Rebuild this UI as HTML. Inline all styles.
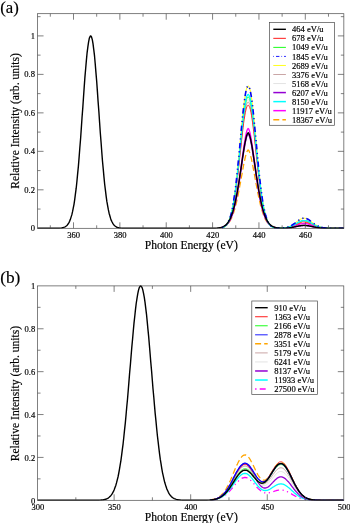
<!DOCTYPE html>
<html><head><meta charset="utf-8"><title>Spectra</title>
<style>html,body{margin:0;padding:0;background:#fff}svg{display:block}text{font-family:"Liberation Serif","Liberation Sans",serif;fill:#000;stroke:#000;stroke-width:.18px}</style></head>
<body>
<svg width="350" height="523" viewBox="0 0 350 523">
<rect width="350" height="523" fill="#fff"/>
<clipPath id="ca"><rect x="37.55" y="13.7" width="306.30" height="215.15"/></clipPath>
<g clip-path="url(#ca)">
<path d="M221.9,227.4 222.4,227.3 223.0,227.1 223.5,226.9 224.1,226.6 224.6,226.4 225.2,226.0 225.8,225.7 226.3,225.3 226.9,224.8 227.4,224.3 228.0,223.7 228.6,223.0 229.1,222.3 229.7,221.5 230.2,220.6 230.8,219.5 231.4,218.4 231.9,217.2 232.5,215.8 233.0,214.4 233.6,212.8 234.1,211.0 234.7,209.2 235.3,207.1 235.8,205.0 236.4,202.7 236.9,200.3 237.5,197.8 238.1,195.1 238.6,192.3 239.2,189.4 239.7,186.5 240.3,183.4 240.9,180.3 241.4,177.2 242.0,174.1 242.5,171.0 243.1,168.0 243.6,165.0 244.2,162.2 244.8,159.5 245.3,157.1 245.9,154.9 246.4,153.1 247.0,151.6 247.6,150.5 248.1,150.0 248.7,150.4 249.2,151.4 249.8,152.8 250.4,154.6 250.9,156.8 251.5,159.2 252.0,161.8 252.6,164.6 253.1,167.5 253.7,170.5 254.3,173.6 254.8,176.7 255.4,179.8 255.9,182.9 256.5,186.0 257.1,189.0 257.6,191.9 258.2,194.7 258.7,197.4 259.3,199.9 259.9,202.4 260.4,204.7 261.0,206.8 261.5,208.9 262.1,210.7 262.6,212.5 263.2,214.1 263.8,215.6 264.3,217.0 264.9,218.2 265.4,219.4 266.0,220.4 266.6,221.3 267.1,222.2 267.7,222.9 268.2,223.6 268.8,224.2 269.4,224.7 269.9,225.2 270.5,225.6 271.0,226.0 271.6,226.3 272.1,226.6 272.7,226.8 273.3,227.1 273.8,227.2 274.4,227.4 274.9,227.5 275.5,227.6 276.1,227.7 276.6,227.8 277.2,227.9 277.7,228.0 278.3,228.0 278.9,228.0 279.4,228.1 280.0,228.1 280.5,228.1 281.1,228.1 281.7,228.1 282.2,228.1 282.8,228.1 283.3,228.1 283.9,228.0 284.4,228.0 285.0,227.9 285.6,227.9 286.1,227.8 286.7,227.8 287.2,227.7 287.8,227.6 288.4,227.5 288.9,227.4 289.5,227.2 290.0,227.1 290.6,226.9 291.2,226.8 291.7,226.6 292.3,226.4 292.8,226.2 293.4,226.0 293.9,225.7 294.5,225.5 295.1,225.3 295.6,225.0 296.2,224.8 296.7,224.5 297.3,224.3 297.9,224.1 298.4,223.8 299.0,223.6 299.5,223.4 300.1,223.2 300.7,223.1 301.2,222.9 301.8,222.8 302.3,222.7 302.9,222.6 303.4,222.5 304.0,222.5 304.6,222.5 305.1,222.6 305.7,222.6 306.2,222.7 306.8,222.8 307.4,223.0 307.9,223.1 308.5,223.3 309.0,223.5 309.6,223.7 310.2,223.9 310.7,224.2 311.3,224.4 311.8,224.7 312.4,224.9 312.9,225.2 313.5,225.4 314.1,225.6 314.6,225.9 315.2,226.1 315.7,226.3 316.3,226.5 316.9,226.7 317.4,226.8 318.0,227.0 318.5,227.2 319.1,227.3 319.7,227.4 320.2,227.5 320.8,227.6 321.3,227.7 321.9,227.8 322.4,227.9 323.0,227.9 323.6,228.0 324.1,228.0 324.7,228.1 325.2,228.1 325.8,228.2 326.4,228.2 326.9,228.2 327.5,228.2 328.0,228.2 328.6,228.2 329.2,228.3 329.7,228.3 330.3,228.3 330.8,228.3 331.4,228.3 331.9,228.3 332.5,228.3 333.1,228.3 333.6,228.3 334.2,228.3 334.7,228.3 335.3,228.3 335.9,228.3 336.4,228.3 337.0,228.3 337.5,228.3 338.1,228.3 338.7,228.3 339.2,228.3 339.8,228.3 340.3,228.3 340.9,228.3 341.4,228.3 342.0,228.3 342.6,228.3 343.1,228.3 343.7,228.3 344.2,228.3" fill="none" stroke="#ffa500" stroke-width="1.3" stroke-linejoin="round" stroke-dasharray="6 3.1"/>
<path d="M221.9,227.4 222.4,227.2 223.0,227.0 223.5,226.8 224.1,226.5 224.6,226.2 225.2,225.9 225.8,225.4 226.3,225.0 226.9,224.4 227.4,223.8 228.0,223.1 228.6,222.3 229.1,221.5 229.7,220.5 230.2,219.4 230.8,218.1 231.4,216.7 231.9,215.2 232.5,213.6 233.0,211.7 233.6,209.7 234.1,207.6 234.7,205.2 235.3,202.7 235.8,200.0 236.4,197.1 236.9,194.0 237.5,190.7 238.1,187.3 238.6,183.7 239.2,180.0 239.7,176.1 240.3,172.1 240.9,168.1 241.4,164.0 242.0,160.0 242.5,155.9 243.1,151.9 243.6,148.1 244.2,144.4 244.8,140.9 245.3,137.7 245.9,134.9 246.4,132.4 247.0,130.5 247.6,129.1 248.1,128.5 248.7,128.9 249.2,130.2 249.8,132.1 250.4,134.5 250.9,137.3 251.5,140.4 252.0,143.8 252.6,147.5 253.1,151.3 253.7,155.3 254.3,159.3 254.8,163.4 255.4,167.5 255.9,171.5 256.5,175.5 257.1,179.4 257.6,183.1 258.2,186.7 258.7,190.2 259.3,193.5 259.9,196.6 260.4,199.5 261.0,202.3 261.5,204.8 262.1,207.2 262.6,209.4 263.2,211.4 263.8,213.3 264.3,215.0 264.9,216.5 265.4,217.9 266.0,219.2 266.6,220.3 267.1,221.3 267.7,222.2 268.2,223.0 268.8,223.7 269.4,224.3 269.9,224.9 270.5,225.4 271.0,225.8 271.6,226.2 272.1,226.5 272.7,226.8 273.3,227.0 273.8,227.2 274.4,227.4 274.9,227.5 275.5,227.6 276.1,227.7 276.6,227.8 277.2,227.9 277.7,228.0 278.3,228.0 278.9,228.1 279.4,228.1 280.0,228.1 280.5,228.1 281.1,228.1 281.7,228.1 282.2,228.1 282.8,228.1 283.3,228.1 283.9,228.1 284.4,228.0 285.0,228.0 285.6,228.0 286.1,227.9 286.7,227.8 287.2,227.8 287.8,227.7 288.4,227.6 288.9,227.5 289.5,227.4 290.0,227.3 290.6,227.2 291.2,227.0 291.7,226.9 292.3,226.7 292.8,226.5 293.4,226.4 293.9,226.2 294.5,226.0 295.1,225.8 295.6,225.6 296.2,225.4 296.7,225.2 297.3,225.0 297.9,224.8 298.4,224.6 299.0,224.4 299.5,224.2 300.1,224.1 300.7,223.9 301.2,223.8 301.8,223.7 302.3,223.6 302.9,223.5 303.4,223.5 304.0,223.5 304.6,223.5 305.1,223.5 305.7,223.6 306.2,223.7 306.8,223.7 307.4,223.9 307.9,224.0 308.5,224.1 309.0,224.3 309.6,224.5 310.2,224.7 310.7,224.9 311.3,225.1 311.8,225.3 312.4,225.5 312.9,225.7 313.5,225.9 314.1,226.1 314.6,226.3 315.2,226.4 315.7,226.6 316.3,226.8 316.9,226.9 317.4,227.1 318.0,227.2 318.5,227.3 319.1,227.5 319.7,227.6 320.2,227.7 320.8,227.7 321.3,227.8 321.9,227.9 322.4,227.9 323.0,228.0 323.6,228.0 324.1,228.1 324.7,228.1 325.2,228.2 325.8,228.2 326.4,228.2 326.9,228.2 327.5,228.2 328.0,228.2 328.6,228.3 329.2,228.3 329.7,228.3 330.3,228.3 330.8,228.3 331.4,228.3 331.9,228.3 332.5,228.3 333.1,228.3 333.6,228.3 334.2,228.3 334.7,228.3 335.3,228.3 335.9,228.3 336.4,228.3 337.0,228.3 337.5,228.3 338.1,228.3 338.7,228.3 339.2,228.3 339.8,228.3 340.3,228.3 340.9,228.3 341.4,228.3 342.0,228.3 342.6,228.3 343.1,228.3 343.7,228.3 344.2,228.3" fill="none" stroke="#ff00ff" stroke-width="1.3" stroke-linejoin="round"/>
<path d="M221.9,227.4 222.4,227.2 223.0,227.0 223.5,226.8 224.1,226.5 224.6,226.2 225.2,225.9 225.8,225.5 226.3,225.0 226.9,224.5 227.4,223.9 228.0,223.3 228.6,222.5 229.1,221.6 229.7,220.7 230.2,219.6 230.8,218.4 231.4,217.1 231.9,215.7 232.5,214.1 233.0,212.4 233.6,210.4 234.1,208.4 234.7,206.2 235.3,203.7 235.8,201.2 236.4,198.4 236.9,195.5 237.5,192.4 238.1,189.2 238.6,185.8 239.2,182.3 239.7,178.7 240.3,174.9 240.9,171.2 241.4,167.3 242.0,163.5 242.5,159.7 243.1,156.0 243.6,152.4 244.2,148.9 244.8,145.7 245.3,142.7 245.9,140.0 246.4,137.8 247.0,135.9 247.6,134.6 248.1,134.0 248.7,134.5 249.2,135.7 249.8,137.4 250.4,139.7 250.9,142.3 251.5,145.2 252.0,148.4 252.6,151.8 253.1,155.4 253.7,159.1 254.3,162.9 254.8,166.8 255.4,170.6 255.9,174.4 256.5,178.1 257.1,181.7 257.6,185.3 258.2,188.7 258.7,191.9 259.3,195.0 259.9,198.0 260.4,200.8 261.0,203.4 261.5,205.8 262.1,208.1 262.6,210.1 263.2,212.1 263.8,213.8 264.3,215.5 264.9,216.9 265.4,218.3 266.0,219.5 266.6,220.5 267.1,221.5 267.7,222.4 268.2,223.1 268.8,223.8 269.4,224.4 269.9,225.0 270.5,225.4 271.0,225.8 271.6,226.2 272.1,226.5 272.7,226.8 273.3,227.0 273.8,227.2 274.4,227.4 274.9,227.5 275.5,227.6 276.1,227.7 276.6,227.8 277.2,227.9 277.7,228.0 278.3,228.0 278.9,228.1 279.4,228.1 280.0,228.1 280.5,228.1 281.1,228.2 281.7,228.2 282.2,228.2 282.8,228.2 283.3,228.2 283.9,228.2 284.4,228.1 285.0,228.1 285.6,228.1 286.1,228.1 286.7,228.0 287.2,228.0 287.8,227.9 288.4,227.9 288.9,227.8 289.5,227.8 290.0,227.7 290.6,227.6 291.2,227.6 291.7,227.5 292.3,227.4 292.8,227.3 293.4,227.2 293.9,227.1 294.5,226.9 295.1,226.8 295.6,226.7 296.2,226.6 296.7,226.5 297.3,226.4 297.9,226.3 298.4,226.1 299.0,226.0 299.5,225.9 300.1,225.8 300.7,225.8 301.2,225.7 301.8,225.6 302.3,225.6 302.9,225.5 303.4,225.5 304.0,225.5 304.6,225.5 305.1,225.5 305.7,225.6 306.2,225.6 306.8,225.7 307.4,225.7 307.9,225.8 308.5,225.9 309.0,226.0 309.6,226.1 310.2,226.2 310.7,226.3 311.3,226.4 311.8,226.5 312.4,226.7 312.9,226.8 313.5,226.9 314.1,227.0 314.6,227.1 315.2,227.2 315.7,227.3 316.3,227.4 316.9,227.5 317.4,227.6 318.0,227.7 318.5,227.7 319.1,227.8 319.7,227.9 320.2,227.9 320.8,228.0 321.3,228.0 321.9,228.1 322.4,228.1 323.0,228.1 323.6,228.2 324.1,228.2 324.7,228.2 325.2,228.2 325.8,228.2 326.4,228.2 326.9,228.3 327.5,228.3 328.0,228.3 328.6,228.3 329.2,228.3 329.7,228.3 330.3,228.3 330.8,228.3 331.4,228.3 331.9,228.3 332.5,228.3 333.1,228.3 333.6,228.3 334.2,228.3 334.7,228.3 335.3,228.3 335.9,228.3 336.4,228.3 337.0,228.3 337.5,228.3 338.1,228.3 338.7,228.3 339.2,228.3 339.8,228.3 340.3,228.3 340.9,228.3 341.4,228.3 342.0,228.3 342.6,228.3 343.1,228.3 343.7,228.3 344.2,228.3" fill="none" stroke="#9400d3" stroke-width="1.3" stroke-linejoin="round"/>
<path d="M221.9,227.7 222.4,227.6 223.0,227.4 223.5,227.2 224.1,226.9 224.6,226.6 225.2,226.2 225.8,225.7 226.3,225.2 226.9,224.6 227.4,223.8 228.0,222.9 228.6,221.9 229.1,220.7 229.7,219.4 230.2,217.8 230.8,216.1 231.4,214.1 231.9,211.9 232.5,209.5 233.0,206.8 233.6,203.8 234.1,200.5 234.7,197.0 235.3,193.2 235.8,189.1 236.4,184.7 236.9,180.1 237.5,175.3 238.1,170.3 238.6,165.1 239.2,159.7 239.7,154.3 240.3,148.8 240.9,143.4 241.4,138.0 242.0,132.8 242.5,127.7 243.1,122.9 243.6,118.4 244.2,114.2 244.8,110.5 245.3,107.3 245.9,104.5 246.4,102.3 247.0,100.7 247.6,99.8 248.1,99.4 248.7,99.7 249.2,100.6 249.8,102.1 250.4,104.1 250.9,106.8 251.5,110.0 252.0,113.6 252.6,117.7 253.1,122.2 253.7,126.9 254.3,132.0 254.8,137.2 255.4,142.6 255.9,148.0 256.5,153.5 257.1,158.9 257.6,164.2 258.2,169.5 258.7,174.5 259.3,179.4 259.9,184.0 260.4,188.4 261.0,192.6 261.5,196.4 262.1,200.0 262.6,203.3 263.2,206.3 263.8,209.1 264.3,211.6 264.9,213.8 265.4,215.8 266.0,217.6 266.6,219.2 267.1,220.5 267.7,221.7 268.2,222.8 268.8,223.7 269.4,224.5 269.9,225.1 270.5,225.7 271.0,226.1 271.6,226.5 272.1,226.9 272.7,227.1 273.3,227.4 273.8,227.5 274.4,227.7 274.9,227.8 275.5,227.9 276.1,228.0 276.6,228.1 277.2,228.1 277.7,228.1 278.3,228.2 278.9,228.2 279.4,228.2 280.0,228.2 280.5,228.2 281.1,228.2 281.7,228.1 282.2,228.1 282.8,228.1 283.3,228.0 283.9,228.0 284.4,227.9 285.0,227.9 285.6,227.8 286.1,227.7 286.7,227.6 287.2,227.5 287.8,227.3 288.4,227.2 288.9,227.0 289.5,226.9 290.0,226.7 290.6,226.5 291.2,226.2 291.7,226.0 292.3,225.7 292.8,225.5 293.4,225.2 293.9,224.9 294.5,224.6 295.1,224.3 295.6,223.9 296.2,223.6 296.7,223.3 297.3,223.0 297.9,222.6 298.4,222.3 299.0,222.1 299.5,221.8 300.1,221.5 300.7,221.3 301.2,221.1 301.8,220.9 302.3,220.8 302.9,220.7 303.4,220.6 304.0,220.6 304.6,220.6 305.1,220.7 305.7,220.7 306.2,220.9 306.8,221.0 307.4,221.2 307.9,221.4 308.5,221.7 309.0,221.9 309.6,222.2 310.2,222.5 310.7,222.8 311.3,223.1 311.8,223.5 312.4,223.8 312.9,224.1 313.5,224.4 314.1,224.7 314.6,225.0 315.2,225.3 315.7,225.6 316.3,225.9 316.9,226.1 317.4,226.4 318.0,226.6 318.5,226.8 319.1,227.0 319.7,227.1 320.2,227.3 320.8,227.4 321.3,227.5 321.9,227.6 322.4,227.7 323.0,227.8 323.6,227.9 324.1,228.0 324.7,228.0 325.2,228.1 325.8,228.1 326.4,228.1 326.9,228.2 327.5,228.2 328.0,228.2 328.6,228.2 329.2,228.2 329.7,228.3 330.3,228.3 330.8,228.3 331.4,228.3 331.9,228.3 332.5,228.3 333.1,228.3 333.6,228.3 334.2,228.3 334.7,228.3 335.3,228.3 335.9,228.3 336.4,228.3 337.0,228.3 337.5,228.3 338.1,228.3 338.7,228.3 339.2,228.3 339.8,228.3 340.3,228.3 340.9,228.3 341.4,228.3 342.0,228.3 342.6,228.3 343.1,228.3 343.7,228.3 344.2,228.3" fill="none" stroke="#dcdcdc" stroke-width="0.8" stroke-linejoin="round"/>
<path d="M221.9,227.7 222.4,227.6 223.0,227.4 223.5,227.2 224.1,226.9 224.6,226.6 225.2,226.2 225.8,225.8 226.3,225.3 226.9,224.6 227.4,223.9 228.0,223.0 228.6,222.0 229.1,220.9 229.7,219.6 230.2,218.1 230.8,216.4 231.4,214.4 231.9,212.3 232.5,209.9 233.0,207.2 233.6,204.3 234.1,201.1 234.7,197.7 235.3,193.9 235.8,189.9 236.4,185.6 236.9,181.1 237.5,176.4 238.1,171.5 238.6,166.4 239.2,161.2 239.7,155.8 240.3,150.5 240.9,145.2 241.4,139.9 242.0,134.8 242.5,129.8 243.1,125.1 243.6,120.7 244.2,116.6 244.8,113.0 245.3,109.8 245.9,107.1 246.4,105.0 247.0,103.4 247.6,102.4 248.1,102.1 248.7,102.3 249.2,103.2 249.8,104.7 250.4,106.7 250.9,109.3 251.5,112.4 252.0,116.0 252.6,120.0 253.1,124.4 253.7,129.1 254.3,134.0 254.8,139.1 255.4,144.4 255.9,149.7 256.5,155.0 257.1,160.3 257.6,165.6 258.2,170.7 258.7,175.7 259.3,180.4 259.9,185.0 260.4,189.3 261.0,193.3 261.5,197.1 262.1,200.6 262.6,203.8 263.2,206.8 263.8,209.5 264.3,211.9 264.9,214.1 265.4,216.1 266.0,217.8 266.6,219.4 267.1,220.7 267.7,221.9 268.2,222.9 268.8,223.8 269.4,224.5 269.9,225.2 270.5,225.7 271.0,226.2 271.6,226.6 272.1,226.9 272.7,227.2 273.3,227.4 273.8,227.6 274.4,227.7 274.9,227.8 275.5,227.9 276.1,228.0 276.6,228.1 277.2,228.1 277.7,228.1 278.3,228.2 278.9,228.2 279.4,228.2 280.0,228.2 280.5,228.2 281.1,228.2 281.7,228.1 282.2,228.1 282.8,228.1 283.3,228.0 283.9,228.0 284.4,227.9 285.0,227.9 285.6,227.8 286.1,227.7 286.7,227.6 287.2,227.5 287.8,227.3 288.4,227.2 288.9,227.0 289.5,226.9 290.0,226.7 290.6,226.5 291.2,226.2 291.7,226.0 292.3,225.7 292.8,225.5 293.4,225.2 293.9,224.9 294.5,224.6 295.1,224.3 295.6,223.9 296.2,223.6 296.7,223.3 297.3,223.0 297.9,222.6 298.4,222.3 299.0,222.1 299.5,221.8 300.1,221.5 300.7,221.3 301.2,221.1 301.8,220.9 302.3,220.8 302.9,220.7 303.4,220.6 304.0,220.6 304.6,220.6 305.1,220.7 305.7,220.7 306.2,220.9 306.8,221.0 307.4,221.2 307.9,221.4 308.5,221.7 309.0,221.9 309.6,222.2 310.2,222.5 310.7,222.8 311.3,223.1 311.8,223.5 312.4,223.8 312.9,224.1 313.5,224.4 314.1,224.7 314.6,225.0 315.2,225.3 315.7,225.6 316.3,225.9 316.9,226.1 317.4,226.4 318.0,226.6 318.5,226.8 319.1,227.0 319.7,227.1 320.2,227.3 320.8,227.4 321.3,227.5 321.9,227.6 322.4,227.7 323.0,227.8 323.6,227.9 324.1,228.0 324.7,228.0 325.2,228.1 325.8,228.1 326.4,228.1 326.9,228.2 327.5,228.2 328.0,228.2 328.6,228.2 329.2,228.2 329.7,228.3 330.3,228.3 330.8,228.3 331.4,228.3 331.9,228.3 332.5,228.3 333.1,228.3 333.6,228.3 334.2,228.3 334.7,228.3 335.3,228.3 335.9,228.3 336.4,228.3 337.0,228.3 337.5,228.3 338.1,228.3 338.7,228.3 339.2,228.3 339.8,228.3 340.3,228.3 340.9,228.3 341.4,228.3 342.0,228.3 342.6,228.3 343.1,228.3 343.7,228.3 344.2,228.3" fill="none" stroke="#bc8f8f" stroke-width="0.8" stroke-linejoin="round"/>
<path d="M221.9,227.7 222.4,227.6 223.0,227.4 223.5,227.2 224.1,226.9 224.6,226.6 225.2,226.2 225.8,225.7 226.3,225.1 226.9,224.5 227.4,223.7 228.0,222.8 228.6,221.8 229.1,220.6 229.7,219.2 230.2,217.6 230.8,215.9 231.4,213.9 231.9,211.6 232.5,209.1 233.0,206.4 233.6,203.3 234.1,200.0 234.7,196.4 235.3,192.5 235.8,188.3 236.4,183.9 236.9,179.2 237.5,174.3 238.1,169.1 238.6,163.8 239.2,158.4 239.7,152.9 240.3,147.3 240.9,141.7 241.4,136.3 242.0,130.9 242.5,125.7 243.1,120.8 243.6,116.2 244.2,112.0 244.8,108.2 245.3,104.9 245.9,102.1 246.4,99.9 247.0,98.3 247.6,97.3 248.1,96.9 248.7,97.2 249.2,98.1 249.8,99.6 250.4,101.7 250.9,104.4 251.5,107.7 252.0,111.4 252.6,115.6 253.1,120.1 253.7,125.0 254.3,130.1 254.8,135.4 255.4,140.9 255.9,146.4 256.5,152.0 257.1,157.5 257.6,163.0 258.2,168.3 258.7,173.5 259.3,178.4 259.9,183.2 260.4,187.7 261.0,191.9 261.5,195.8 262.1,199.5 262.6,202.8 263.2,205.9 263.8,208.7 264.3,211.3 264.9,213.5 265.4,215.6 266.0,217.4 266.6,219.0 267.1,220.4 267.7,221.6 268.2,222.7 268.8,223.6 269.4,224.4 269.9,225.0 270.5,225.6 271.0,226.1 271.6,226.5 272.1,226.8 272.7,227.1 273.3,227.3 273.8,227.5 274.4,227.7 274.9,227.8 275.5,227.9 276.1,228.0 276.6,228.0 277.2,228.1 277.7,228.1 278.3,228.2 278.9,228.2 279.4,228.2 280.0,228.2 280.5,228.2 281.1,228.2 281.7,228.1 282.2,228.1 282.8,228.1 283.3,228.0 283.9,228.0 284.4,227.9 285.0,227.9 285.6,227.8 286.1,227.7 286.7,227.6 287.2,227.5 287.8,227.3 288.4,227.2 288.9,227.0 289.5,226.9 290.0,226.7 290.6,226.5 291.2,226.2 291.7,226.0 292.3,225.7 292.8,225.5 293.4,225.2 293.9,224.9 294.5,224.6 295.1,224.3 295.6,223.9 296.2,223.6 296.7,223.3 297.3,223.0 297.9,222.6 298.4,222.3 299.0,222.1 299.5,221.8 300.1,221.5 300.7,221.3 301.2,221.1 301.8,220.9 302.3,220.8 302.9,220.7 303.4,220.6 304.0,220.6 304.6,220.6 305.1,220.7 305.7,220.7 306.2,220.9 306.8,221.0 307.4,221.2 307.9,221.4 308.5,221.7 309.0,221.9 309.6,222.2 310.2,222.5 310.7,222.8 311.3,223.1 311.8,223.5 312.4,223.8 312.9,224.1 313.5,224.4 314.1,224.7 314.6,225.0 315.2,225.3 315.7,225.6 316.3,225.9 316.9,226.1 317.4,226.4 318.0,226.6 318.5,226.8 319.1,227.0 319.7,227.1 320.2,227.3 320.8,227.4 321.3,227.5 321.9,227.6 322.4,227.7 323.0,227.8 323.6,227.9 324.1,228.0 324.7,228.0 325.2,228.1 325.8,228.1 326.4,228.1 326.9,228.2 327.5,228.2 328.0,228.2 328.6,228.2 329.2,228.2 329.7,228.3 330.3,228.3 330.8,228.3 331.4,228.3 331.9,228.3 332.5,228.3 333.1,228.3 333.6,228.3 334.2,228.3 334.7,228.3 335.3,228.3 335.9,228.3 336.4,228.3 337.0,228.3 337.5,228.3 338.1,228.3 338.7,228.3 339.2,228.3 339.8,228.3 340.3,228.3 340.9,228.3 341.4,228.3 342.0,228.3 342.6,228.3 343.1,228.3 343.7,228.3 344.2,228.3" fill="none" stroke="#00ff00" stroke-width="0.8" stroke-linejoin="round"/>
<path d="M221.9,227.8 222.4,227.6 223.0,227.4 223.5,227.2 224.1,227.0 224.6,226.7 225.2,226.3 225.8,225.9 226.3,225.3 226.9,224.7 227.4,224.0 228.0,223.2 228.6,222.2 229.1,221.1 229.7,219.8 230.2,218.3 230.8,216.7 231.4,214.8 231.9,212.7 232.5,210.3 233.0,207.7 233.6,204.9 234.1,201.8 234.7,198.4 235.3,194.8 235.8,190.8 236.4,186.7 236.9,182.3 237.5,177.7 238.1,172.9 238.6,167.9 239.2,162.8 239.7,157.6 240.3,152.4 240.9,147.2 241.4,142.1 242.0,137.0 242.5,132.2 243.1,127.6 243.6,123.3 244.2,119.3 244.8,115.8 245.3,112.7 245.9,110.1 246.4,108.0 247.0,106.5 247.6,105.5 248.1,105.2 248.7,105.4 249.2,106.3 249.8,107.7 250.4,109.7 250.9,112.2 251.5,115.3 252.0,118.8 252.6,122.7 253.1,126.9 253.7,131.5 254.3,136.3 254.8,141.3 255.4,146.4 255.9,151.6 256.5,156.8 257.1,162.0 257.6,167.1 258.2,172.1 258.7,176.9 259.3,181.6 259.9,186.0 260.4,190.2 261.0,194.2 261.5,197.9 262.1,201.3 262.6,204.4 263.2,207.3 263.8,210.0 264.3,212.3 264.9,214.5 265.4,216.4 266.0,218.1 266.6,219.6 267.1,220.9 267.7,222.0 268.2,223.0 268.8,223.9 269.4,224.6 269.9,225.3 270.5,225.8 271.0,226.2 271.6,226.6 272.1,226.9 272.7,227.2 273.3,227.4 273.8,227.6 274.4,227.7 274.9,227.8 275.5,227.9 276.1,228.0 276.6,228.1 277.2,228.1 277.7,228.1 278.3,228.2 278.9,228.2 279.4,228.2 280.0,228.2 280.5,228.2 281.1,228.2 281.7,228.2 282.2,228.1 282.8,228.1 283.3,228.1 283.9,228.0 284.4,228.0 285.0,227.9 285.6,227.9 286.1,227.8 286.7,227.7 287.2,227.6 287.8,227.5 288.4,227.4 288.9,227.2 289.5,227.1 290.0,226.9 290.6,226.7 291.2,226.6 291.7,226.3 292.3,226.1 292.8,225.9 293.4,225.7 293.9,225.4 294.5,225.1 295.1,224.9 295.6,224.6 296.2,224.3 296.7,224.0 297.3,223.8 297.9,223.5 298.4,223.2 299.0,223.0 299.5,222.8 300.1,222.5 300.7,222.4 301.2,222.2 301.8,222.0 302.3,221.9 302.9,221.8 303.4,221.8 304.0,221.8 304.6,221.8 305.1,221.8 305.7,221.9 306.2,222.0 306.8,222.1 307.4,222.3 307.9,222.4 308.5,222.7 309.0,222.9 309.6,223.1 310.2,223.4 310.7,223.6 311.3,223.9 311.8,224.2 312.4,224.5 312.9,224.7 313.5,225.0 314.1,225.3 314.6,225.5 315.2,225.8 315.7,226.0 316.3,226.2 316.9,226.5 317.4,226.7 318.0,226.8 318.5,227.0 319.1,227.2 319.7,227.3 320.2,227.4 320.8,227.5 321.3,227.7 321.9,227.7 322.4,227.8 323.0,227.9 323.6,228.0 324.1,228.0 324.7,228.1 325.2,228.1 325.8,228.1 326.4,228.2 326.9,228.2 327.5,228.2 328.0,228.2 328.6,228.2 329.2,228.3 329.7,228.3 330.3,228.3 330.8,228.3 331.4,228.3 331.9,228.3 332.5,228.3 333.1,228.3 333.6,228.3 334.2,228.3 334.7,228.3 335.3,228.3 335.9,228.3 336.4,228.3 337.0,228.3 337.5,228.3 338.1,228.3 338.7,228.3 339.2,228.3 339.8,228.3 340.3,228.3 340.9,228.3 341.4,228.3 342.0,228.3 342.6,228.3 343.1,228.3 343.7,228.3 344.2,228.3" fill="none" stroke="#ff0000" stroke-width="0.8" stroke-linejoin="round"/>
<path d="M221.9,227.7 222.4,227.5 223.0,227.3 223.5,227.1 224.1,226.8 224.6,226.4 225.2,226.0 225.8,225.5 226.3,224.9 226.9,224.2 227.4,223.3 228.0,222.4 228.6,221.2 229.1,219.9 229.7,218.5 230.2,216.8 230.8,214.8 231.4,212.7 231.9,210.2 232.5,207.5 233.0,204.5 233.6,201.2 234.1,197.6 234.7,193.7 235.3,189.5 235.8,185.0 236.4,180.2 236.9,175.1 237.5,169.8 238.1,164.2 238.6,158.4 239.2,152.6 239.7,146.6 240.3,140.5 240.9,134.5 241.4,128.6 242.0,122.8 242.5,117.2 243.1,111.9 243.6,106.9 244.2,102.3 244.8,98.2 245.3,94.6 245.9,91.6 246.4,89.2 247.0,87.4 247.6,86.3 248.1,85.9 248.7,86.2 249.2,87.2 249.8,88.9 250.4,91.2 250.9,94.1 251.5,97.6 252.0,101.6 252.6,106.2 253.1,111.1 253.7,116.4 254.3,121.9 254.8,127.7 255.4,133.6 255.9,139.6 256.5,145.6 257.1,151.6 257.6,157.6 258.2,163.3 258.7,168.9 259.3,174.3 259.9,179.4 260.4,184.3 261.0,188.8 261.5,193.1 262.1,197.1 262.6,200.7 263.2,204.0 263.8,207.1 264.3,209.8 264.9,212.3 265.4,214.5 266.0,216.5 266.6,218.2 267.1,219.7 267.7,221.1 268.2,222.2 268.8,223.2 269.4,224.1 269.9,224.8 270.5,225.4 271.0,225.9 271.6,226.3 272.1,226.7 272.7,227.0 273.3,227.3 273.8,227.5 274.4,227.6 274.9,227.8 275.5,227.9 276.1,228.0 276.6,228.0 277.2,228.1 277.7,228.1 278.3,228.1 278.9,228.1 279.4,228.1 280.0,228.1 280.5,228.1 281.1,228.1 281.7,228.1 282.2,228.0 282.8,228.0 283.3,227.9 283.9,227.9 284.4,227.8 285.0,227.7 285.6,227.6 286.1,227.5 286.7,227.4 287.2,227.2 287.8,227.0 288.4,226.9 288.9,226.7 289.5,226.4 290.0,226.2 290.6,225.9 291.2,225.6 291.7,225.3 292.3,224.9 292.8,224.6 293.4,224.2 293.9,223.8 294.5,223.4 295.1,223.0 295.6,222.6 296.2,222.1 296.7,221.7 297.3,221.3 297.9,220.9 298.4,220.5 299.0,220.1 299.5,219.7 300.1,219.4 300.7,219.1 301.2,218.9 301.8,218.6 302.3,218.5 302.9,218.3 303.4,218.2 304.0,218.2 304.6,218.2 305.1,218.3 305.7,218.4 306.2,218.5 306.8,218.7 307.4,219.0 307.9,219.3 308.5,219.6 309.0,219.9 309.6,220.3 310.2,220.7 310.7,221.1 311.3,221.5 311.8,221.9 312.4,222.4 312.9,222.8 313.5,223.2 314.1,223.6 314.6,224.0 315.2,224.4 315.7,224.8 316.3,225.1 316.9,225.4 317.4,225.8 318.0,226.0 318.5,226.3 319.1,226.5 319.7,226.8 320.2,227.0 320.8,227.1 321.3,227.3 321.9,227.4 322.4,227.6 323.0,227.7 323.6,227.8 324.1,227.9 324.7,227.9 325.2,228.0 325.8,228.0 326.4,228.1 326.9,228.1 327.5,228.2 328.0,228.2 328.6,228.2 329.2,228.2 329.7,228.2 330.3,228.3 330.8,228.3 331.4,228.3 331.9,228.3 332.5,228.3 333.1,228.3 333.6,228.3 334.2,228.3 334.7,228.3 335.3,228.3 335.9,228.3 336.4,228.3 337.0,228.3 337.5,228.3 338.1,228.3 338.7,228.3 339.2,228.3 339.8,228.3 340.3,228.3 340.9,228.3 341.4,228.3 342.0,228.3 342.6,228.3 343.1,228.3 343.7,228.3 344.2,228.3" fill="none" stroke="#ffff00" stroke-width="1.0" stroke-linejoin="round"/>
<path d="M221.9,227.7 222.4,227.5 223.0,227.4 223.5,227.1 224.1,226.9 224.6,226.5 225.2,226.1 225.8,225.6 226.3,225.1 226.9,224.4 227.4,223.6 228.0,222.7 228.6,221.7 229.1,220.4 229.7,219.0 230.2,217.4 230.8,215.6 231.4,213.6 231.9,211.3 232.5,208.8 233.0,205.9 233.6,202.8 234.1,199.5 234.7,195.8 235.3,191.8 235.8,187.6 236.4,183.0 236.9,178.3 237.5,173.2 238.1,168.0 238.6,162.6 239.2,157.1 239.7,151.4 240.3,145.8 240.9,140.1 241.4,134.5 242.0,129.1 242.5,123.8 243.1,118.8 243.6,114.1 244.2,109.8 244.8,105.9 245.3,102.6 245.9,99.7 246.4,97.4 247.0,95.8 247.6,94.8 248.1,94.4 248.7,94.7 249.2,95.6 249.8,97.2 250.4,99.3 250.9,102.1 251.5,105.4 252.0,109.2 252.6,113.4 253.1,118.1 253.7,123.0 254.3,128.2 254.8,133.7 255.4,139.2 255.9,144.9 256.5,150.6 257.1,156.2 257.6,161.8 258.2,167.2 258.7,172.4 259.3,177.5 259.9,182.3 260.4,186.9 261.0,191.2 261.5,195.2 262.1,198.9 262.6,202.3 263.2,205.5 263.8,208.3 264.3,210.9 264.9,213.3 265.4,215.3 266.0,217.2 266.6,218.8 267.1,220.2 267.7,221.5 268.2,222.6 268.8,223.5 269.4,224.3 269.9,225.0 270.5,225.6 271.0,226.1 271.6,226.5 272.1,226.8 272.7,227.1 273.3,227.3 273.8,227.5 274.4,227.7 274.9,227.8 275.5,227.9 276.1,228.0 276.6,228.0 277.2,228.1 277.7,228.1 278.3,228.1 278.9,228.2 279.4,228.2 280.0,228.2 280.5,228.2 281.1,228.2 281.7,228.1 282.2,228.1 282.8,228.1 283.3,228.0 283.9,228.0 284.4,227.9 285.0,227.9 285.6,227.8 286.1,227.7 286.7,227.6 287.2,227.5 287.8,227.3 288.4,227.2 288.9,227.0 289.5,226.9 290.0,226.7 290.6,226.5 291.2,226.2 291.7,226.0 292.3,225.7 292.8,225.5 293.4,225.2 293.9,224.9 294.5,224.6 295.1,224.3 295.6,223.9 296.2,223.6 296.7,223.3 297.3,223.0 297.9,222.6 298.4,222.3 299.0,222.1 299.5,221.8 300.1,221.5 300.7,221.3 301.2,221.1 301.8,220.9 302.3,220.8 302.9,220.7 303.4,220.6 304.0,220.6 304.6,220.6 305.1,220.7 305.7,220.7 306.2,220.9 306.8,221.0 307.4,221.2 307.9,221.4 308.5,221.7 309.0,221.9 309.6,222.2 310.2,222.5 310.7,222.8 311.3,223.1 311.8,223.5 312.4,223.8 312.9,224.1 313.5,224.4 314.1,224.7 314.6,225.0 315.2,225.3 315.7,225.6 316.3,225.9 316.9,226.1 317.4,226.4 318.0,226.6 318.5,226.8 319.1,227.0 319.7,227.1 320.2,227.3 320.8,227.4 321.3,227.5 321.9,227.6 322.4,227.7 323.0,227.8 323.6,227.9 324.1,228.0 324.7,228.0 325.2,228.1 325.8,228.1 326.4,228.1 326.9,228.2 327.5,228.2 328.0,228.2 328.6,228.2 329.2,228.2 329.7,228.3 330.3,228.3 330.8,228.3 331.4,228.3 331.9,228.3 332.5,228.3 333.1,228.3 333.6,228.3 334.2,228.3 334.7,228.3 335.3,228.3 335.9,228.3 336.4,228.3 337.0,228.3 337.5,228.3 338.1,228.3 338.7,228.3 339.2,228.3 339.8,228.3 340.3,228.3 340.9,228.3 341.4,228.3 342.0,228.3 342.6,228.3 343.1,228.3 343.7,228.3 344.2,228.3" fill="none" stroke="#00ffff" stroke-width="1.3" stroke-linejoin="round"/>
<path d="M221.9,227.7 222.4,227.5 222.9,227.3 223.4,227.1 223.9,226.9 224.4,226.6 224.9,226.2 225.4,225.8 225.9,225.3 226.5,224.7 227.0,224.0 227.5,223.3 228.0,222.4 228.5,221.3 229.0,220.2 229.5,218.9 230.0,217.4 230.6,215.7 231.1,213.8 231.6,211.7 232.1,209.4 232.6,206.8 233.1,204.0 233.6,201.0 234.1,197.7 234.7,194.1 235.2,190.3 235.7,186.2 236.2,181.9 236.7,177.3 237.2,172.5 237.7,167.5 238.2,162.4 238.8,157.1 239.3,151.6 239.8,146.1 240.3,140.6 240.8,135.1 241.3,129.6 241.8,124.3 242.3,119.1 242.8,114.1 243.4,109.4 243.9,105.0 244.4,101.0 244.9,97.3 245.4,94.1 245.9,91.4 246.4,89.2 246.9,87.6 247.5,86.5 248.0,86.0 248.5,86.0 249.0,86.7 249.5,87.9 250.0,89.7 250.5,92.0 251.0,94.9 251.6,98.2 252.1,101.9 252.6,106.1 253.1,110.5 253.6,115.3 254.1,120.4 254.6,125.6 255.1,131.0 255.7,136.5 256.2,142.0 256.7,147.5 257.2,153.0 257.7,158.4 258.2,163.7 258.7,168.8 259.2,173.7 259.7,178.4 260.3,183.0 260.8,187.2 261.3,191.2 261.8,195.0 262.3,198.5 262.8,201.8 263.3,204.7 263.8,207.5 264.4,210.0 264.9,212.2 265.4,214.3 265.9,216.1 266.4,217.7 266.9,219.2 267.4,220.5 267.9,221.6 268.5,222.6 269.0,223.5 269.5,224.2 270.0,224.9 270.5,225.4 271.0,225.9 271.5,226.3 272.0,226.6 272.5,226.9 273.1,227.2 273.6,227.4 274.1,227.5 274.6,227.7 275.1,227.8 275.6,227.9 276.1,228.0 276.6,228.0 277.2,228.1 277.7,228.1 278.2,228.1 278.7,228.1 279.2,228.1 279.7,228.1 280.2,228.1 280.7,228.1 281.3,228.1 281.8,228.1 282.3,228.0 282.8,228.0 283.3,228.0 283.8,227.9 284.3,227.8 284.8,227.7 285.4,227.7 285.9,227.6 286.4,227.4 286.9,227.3 287.4,227.2 287.9,227.0 288.4,226.8 288.9,226.6 289.4,226.4 290.0,226.2 290.5,226.0 291.0,225.7 291.5,225.4 292.0,225.1 292.5,224.8 293.0,224.5 293.5,224.1 294.1,223.7 294.6,223.4 295.1,223.0 295.6,222.6 296.1,222.2 296.6,221.8 297.1,221.4 297.6,221.0 298.2,220.7 298.7,220.3 299.2,220.0 299.7,219.6 300.2,219.4 300.7,219.1 301.2,218.8 301.7,218.6 302.3,218.5 302.8,218.3 303.3,218.3 303.8,218.2 304.3,218.2 304.8,218.2 305.3,218.3 305.8,218.4 306.3,218.6 306.9,218.8 307.4,219.0 307.9,219.2 308.4,219.5 308.9,219.8 309.4,220.2 309.9,220.5 310.4,220.9 311.0,221.3 311.5,221.7 312.0,222.1 312.5,222.4 313.0,222.8 313.5,223.2 314.0,223.6 314.5,224.0 315.1,224.3 315.6,224.7 316.1,225.0 316.6,225.3 317.1,225.6 317.6,225.9 318.1,226.1 318.6,226.3 319.1,226.6 319.7,226.8 320.2,226.9 320.7,227.1 321.2,227.3 321.7,227.4 322.2,227.5 322.7,227.6 323.2,227.7 323.8,227.8 324.3,227.9 324.8,227.9 325.3,228.0 325.8,228.0 326.3,228.1 326.8,228.1 327.3,228.1 327.9,228.2 328.4,228.2 328.9,228.2 329.4,228.2 329.9,228.2 330.4,228.3 330.9,228.3 331.4,228.3 332.0,228.3 332.5,228.3 333.0,228.3 333.5,228.3 334.0,228.3 334.5,228.3 335.0,228.3 335.5,228.3 336.0,228.3 336.6,228.3 337.1,228.3 337.6,228.3 338.1,228.3 338.6,228.3 339.1,228.3 339.6,228.3 340.1,228.3 340.7,228.3 341.2,228.3 341.7,228.3 342.2,228.3 342.7,228.3 343.2,228.3 343.7,228.3 344.2,228.3" fill="none" stroke="#0000ff" stroke-width="1.6" stroke-linejoin="round" stroke-dasharray="5.4 3.5 1.2 3.3 1.3 2.8" stroke-dashoffset="4"/>
<path d="M37.3,228.3 38.1,228.3 38.8,228.3 39.5,228.3 40.3,228.3 41.0,228.3 41.7,228.3 42.5,228.3 43.2,228.3 43.9,228.3 44.7,228.3 45.4,228.3 46.1,228.3 46.9,228.3 47.6,228.3 48.3,228.3 49.1,228.3 49.8,228.3 50.5,228.3 51.3,228.3 52.0,228.3 52.7,228.3 53.5,228.3 54.2,228.3 54.9,228.3 55.7,228.3 56.4,228.3 57.1,228.3 57.8,228.2 58.6,228.2 59.3,228.2 60.0,228.1 60.8,228.1 61.5,228.0 62.2,227.8 63.0,227.7 63.7,227.4 64.4,227.2 65.2,226.8 65.9,226.3 66.6,225.7 67.4,224.9 68.1,224.0 68.8,222.8 69.6,221.3 70.3,219.6 71.0,217.4 71.8,214.9 72.5,211.9 73.2,208.4 74.0,204.3 74.7,199.6 75.4,194.2 76.2,188.2 76.9,181.5 77.6,174.1 78.4,166.1 79.1,157.4 79.8,148.2 80.6,138.5 81.3,128.4 82.0,118.0 82.8,107.6 83.5,97.2 84.2,87.1 84.9,77.4 85.7,68.3 86.4,60.1 87.1,52.8 87.9,46.6 88.6,41.8 89.3,38.3 90.1,36.4 90.8,35.9 91.5,37.0 92.3,39.6 93.0,43.7 93.7,49.1 94.5,55.7 95.2,63.5 95.9,72.1 96.7,81.5 97.4,91.4 98.1,101.6 98.9,112.0 99.6,122.5 100.3,132.7 101.1,142.7 101.8,152.2 102.5,161.2 103.3,169.6 104.0,177.4 104.7,184.5 105.5,190.9 106.2,196.6 106.9,201.7 107.7,206.1 108.4,209.9 109.1,213.2 109.9,216.0 110.6,218.4 111.3,220.4 112.1,222.0 112.8,223.3 113.5,224.4 114.2,225.3 115.0,226.0 115.7,226.5 116.4,227.0 117.2,227.3 117.9,227.6 118.6,227.7 119.4,227.9 120.1,228.0 120.8,228.1 121.6,228.1 122.3,228.2 123.0,228.2 123.8,228.2 124.5,228.3 125.2,228.3 126.0,228.3 126.7,228.3 127.4,228.3 128.2,228.3 128.9,228.3 129.6,228.3 130.4,228.3 131.1,228.3 131.8,228.3 132.6,228.3 133.3,228.3 134.0,228.3 134.8,228.3 135.5,228.3 136.2,228.3 137.0,228.3 137.7,228.3 138.4,228.3 139.2,228.3 139.9,228.3 140.6,228.3 141.3,228.3 142.1,228.3 142.8,228.3 143.5,228.3 144.3,228.3 145.0,228.3 145.7,228.3 146.5,228.3 147.2,228.3 147.9,228.3 148.7,228.3 149.4,228.3 150.1,228.3 150.9,228.3 151.6,228.3 152.3,228.3 153.1,228.3 153.8,228.3 154.5,228.3 155.3,228.3 156.0,228.3 156.7,228.3 157.5,228.3 158.2,228.3 158.9,228.3 159.7,228.3 160.4,228.3 161.1,228.3 161.9,228.3 162.6,228.3 163.3,228.3 164.1,228.3 164.8,228.3 165.5,228.3 166.3,228.3 167.0,228.3 167.7,228.3 168.5,228.3 169.2,228.3 169.9,228.3 170.6,228.3 171.4,228.3 172.1,228.3 172.8,228.3 173.6,228.3 174.3,228.3 175.0,228.3 175.8,228.3 176.5,228.3 177.2,228.3 178.0,228.3 178.7,228.3 179.4,228.3 180.2,228.3 180.9,228.3 181.6,228.3 182.4,228.3 183.1,228.3 183.8,228.3 184.6,228.3 185.3,228.3 186.0,228.3 186.8,228.3 187.5,228.3 188.2,228.3 189.0,228.3 189.7,228.3 190.4,228.3 191.2,228.3 191.9,228.3 192.6,228.3 193.4,228.3 194.1,228.3 194.8,228.3 195.6,228.3 196.3,228.3 197.0,228.3 197.7,228.3 198.5,228.3 199.2,228.3 199.9,228.3 200.7,228.3 201.4,228.3 202.1,228.3 202.9,228.3 203.6,228.3 204.3,228.3 205.1,228.3 205.8,228.3 206.5,228.3 207.3,228.3 208.0,228.3 208.7,228.3 209.5,228.3 210.2,228.3 210.9,228.3 211.7,228.3 212.4,228.3 213.1,228.2 213.9,228.2 214.6,228.2 215.3,228.2 216.1,228.1 216.8,228.1 217.5,228.0 218.3,227.9 219.0,227.8 219.7,227.7 220.5,227.6 221.2,227.4 221.9,227.2 222.7,226.9 223.4,226.6 224.1,226.2 224.9,225.7 225.6,225.1 226.3,224.5 227.0,223.7 227.8,222.8 228.5,221.7 229.2,220.5 230.0,219.1 230.7,217.5 231.4,215.7 232.2,213.6 232.9,211.3 233.6,208.7 234.4,205.8 235.1,202.6 235.8,199.2 236.6,195.5 237.3,191.5 238.0,187.2 238.8,182.8 239.5,178.1 240.2,173.3 241.0,168.3 241.7,163.4 242.4,158.5 243.2,153.6 243.9,149.1 244.6,144.8 245.4,140.9 246.1,137.6 246.8,135.0 247.6,133.3 248.3,132.7 249.0,133.8 249.8,135.9 250.5,138.7 251.2,142.2 252.0,146.2 252.7,150.6 253.4,155.3 254.1,160.2 254.9,165.1 255.6,170.1 256.3,175.0 257.1,179.7 257.8,184.4 258.5,188.8 259.3,192.9 260.0,196.8 260.7,200.4 261.5,203.8 262.2,206.8 262.9,209.6 263.7,212.1 264.4,214.3 265.1,216.3 265.9,218.1 266.6,219.6 267.3,221.0 268.1,222.1 268.8,223.1 269.5,224.0 270.3,224.7 271.0,225.4 271.7,225.9 272.5,226.3 273.2,226.7 273.9,227.0 274.7,227.2 275.4,227.4 276.1,227.6 276.9,227.8 277.6,227.9 278.3,227.9 279.1,228.0 279.8,228.1 280.5,228.1 281.3,228.1 282.0,228.1 282.7,228.1 283.4,228.1 284.2,228.1 284.9,228.1 285.6,228.1 286.4,228.0 287.1,228.0 287.8,227.9 288.6,227.9 289.3,227.8 290.0,227.7 290.8,227.6 291.5,227.5 292.2,227.3 293.0,227.2 293.7,227.1 294.4,226.9 295.2,226.8 295.9,226.6 296.6,226.4 297.4,226.3 298.1,226.1 298.8,226.0 299.6,225.9 300.3,225.7 301.0,225.6 301.8,225.5 302.5,225.5 303.2,225.4 304.0,225.4 304.7,225.4 305.4,225.5 306.2,225.5 306.9,225.6 307.6,225.7 308.4,225.8 309.1,225.9 309.8,226.1 310.5,226.2 311.3,226.4 312.0,226.5 312.7,226.7 313.5,226.8 314.2,227.0 314.9,227.1 315.7,227.3 316.4,227.4 317.1,227.5 317.9,227.6 318.6,227.7 319.3,227.8 320.1,227.9 320.8,228.0 321.5,228.0 322.3,228.1 323.0,228.1 323.7,228.2 324.5,228.2 325.2,228.2 325.9,228.2 326.7,228.2 327.4,228.3 328.1,228.3 328.9,228.3 329.6,228.3 330.3,228.3 331.1,228.3 331.8,228.3 332.5,228.3 333.3,228.3 334.0,228.3 334.7,228.3 335.5,228.3 336.2,228.3 336.9,228.3 337.7,228.3 338.4,228.3 339.1,228.3 339.8,228.3 340.6,228.3 341.3,228.3 342.0,228.3 342.8,228.3 343.5,228.3 344.2,228.3" fill="none" stroke="#000" stroke-width="1.4" stroke-linejoin="round"/>
</g>
<rect x="37.55" y="13.7" width="306.30" height="214.60" fill="none" stroke="#4a4a4a" stroke-width="0.7"/>
<path d="M73.50,228.3v-6M73.50,13.7v6M119.86,228.3v-6M119.86,13.7v6M166.22,228.3v-6M166.22,13.7v6M212.58,228.3v-6M212.58,13.7v6M258.94,228.3v-6M258.94,13.7v6M305.30,228.3v-6M305.30,13.7v6M50.32,228.3v-3M50.32,13.7v3M96.68,228.3v-3M96.68,13.7v3M143.04,228.3v-3M143.04,13.7v3M189.40,228.3v-3M189.40,13.7v3M235.76,228.3v-3M235.76,13.7v3M282.12,228.3v-3M282.12,13.7v3M328.48,228.3v-3M328.48,13.7v3M37.55,189.82h6M343.85,189.82h-6M37.55,151.34h6M343.85,151.34h-6M37.55,112.86h6M343.85,112.86h-6M37.55,74.38h6M343.85,74.38h-6M37.55,35.90h6M343.85,35.90h-6M37.55,209.06h3M343.85,209.06h-3M37.55,170.58h3M343.85,170.58h-3M37.55,132.10h3M343.85,132.10h-3M37.55,93.62h3M343.85,93.62h-3M37.55,55.14h3M343.85,55.14h-3M37.55,16.66h3M343.85,16.66h-3" fill="none" stroke="#4a4a4a" stroke-width="0.7"/>
<text transform="translate(73.70,237.50) scale(0.93,1)"  font-size="9.2" text-anchor="middle">360</text>
<text transform="translate(120.06,237.50) scale(0.93,1)"  font-size="9.2" text-anchor="middle">380</text>
<text transform="translate(166.42,237.50) scale(0.93,1)"  font-size="9.2" text-anchor="middle">400</text>
<text transform="translate(212.78,237.50) scale(0.93,1)"  font-size="9.2" text-anchor="middle">420</text>
<text transform="translate(259.14,237.50) scale(0.93,1)"  font-size="9.2" text-anchor="middle">440</text>
<text transform="translate(305.50,237.50) scale(0.93,1)"  font-size="9.2" text-anchor="middle">460</text>
<text transform="translate(35.00,231.40) scale(0.93,1)"  font-size="9.2" text-anchor="end">0</text>
<text transform="translate(35.00,192.92) scale(0.93,1)"  font-size="9.2" text-anchor="end">0.2</text>
<text transform="translate(35.00,154.44) scale(0.93,1)"  font-size="9.2" text-anchor="end">0.4</text>
<text transform="translate(35.00,115.96) scale(0.93,1)"  font-size="9.2" text-anchor="end">0.6</text>
<text transform="translate(35.00,77.48) scale(0.93,1)"  font-size="9.2" text-anchor="end">0.8</text>
<text transform="translate(35.00,39.00) scale(0.93,1)"  font-size="9.2" text-anchor="end">1</text>
<text transform="translate(191.30,249.00) scale(0.981,1)"  font-size="11.8" text-anchor="middle">Photon Energy (eV)</text>
<text transform="translate(18.50,121.00) rotate(-90) scale(0.981,1)"  font-size="11.8" text-anchor="middle">Relative Intensity (arb. units)</text>
<text x="0.2" y="12.7"  font-size="17.5" textLength="18.6" lengthAdjust="spacingAndGlyphs">(a)</text>
<rect x="269.4" y="22.6" width="65.2" height="102.7" fill="#fff" stroke="#4a4a4a" stroke-width="0.7"/>
<path d="M273.3,29.30H285.9" stroke="#000" stroke-width="1.4"/>
<text transform="translate(292.00,32.40) scale(0.93,1)"  font-size="9.2" text-anchor="start">464 eV/u</text>
<path d="M273.3,38.34H285.9" stroke="#ff0000" stroke-width="0.9"/>
<text transform="translate(292.00,41.44) scale(0.93,1)"  font-size="9.2" text-anchor="start">678 eV/u</text>
<path d="M273.3,47.38H285.9" stroke="#00ff00" stroke-width="0.9"/>
<text transform="translate(292.00,50.48) scale(0.93,1)"  font-size="9.2" text-anchor="start">1049 eV/u</text>
<path d="M273.3,56.42H285.9" stroke="#0000ff" stroke-width="0.9" stroke-dasharray="0.7 2.0 3.4 2.0"/>
<text transform="translate(292.00,59.52) scale(0.93,1)"  font-size="9.2" text-anchor="start">1845 eV/u</text>
<path d="M273.3,65.46H285.9" stroke="#ffff00" stroke-width="0.9"/>
<text transform="translate(292.00,68.56) scale(0.93,1)"  font-size="9.2" text-anchor="start">2689 eV/u</text>
<path d="M273.3,74.50H285.9" stroke="#bc8f8f" stroke-width="0.8"/>
<text transform="translate(292.00,77.60) scale(0.93,1)"  font-size="9.2" text-anchor="start">3376 eV/u</text>
<path d="M273.3,83.54H285.9" stroke="#dcdcdc" stroke-width="0.8"/>
<text transform="translate(292.00,86.64) scale(0.93,1)"  font-size="9.2" text-anchor="start">5168 eV/u</text>
<path d="M273.3,92.58H285.9" stroke="#9400d3" stroke-width="1.5"/>
<text transform="translate(292.00,95.68) scale(0.93,1)"  font-size="9.2" text-anchor="start">6207 eV/u</text>
<path d="M273.3,101.62H285.9" stroke="#00ffff" stroke-width="1.5"/>
<text transform="translate(292.00,104.72) scale(0.93,1)"  font-size="9.2" text-anchor="start">8150 eV/u</text>
<path d="M273.3,110.66H285.9" stroke="#ff00ff" stroke-width="1.5"/>
<text transform="translate(292.00,113.76) scale(0.93,1)"  font-size="9.2" text-anchor="start">11917 eV/u</text>
<path d="M273.3,119.70H285.9" stroke="#ffa500" stroke-width="1.5" stroke-dasharray="6 3.1"/>
<text transform="translate(292.00,122.80) scale(0.93,1)"  font-size="9.2" text-anchor="start">18367 eV/u</text>
<clipPath id="cb"><rect x="37.55" y="284.9" width="306.25" height="215.95"/></clipPath>
<g clip-path="url(#cb)">
<path d="M210.6,500.1 211.2,500.0 211.8,500.0 212.4,499.9 213.0,499.8 213.6,499.8 214.2,499.7 214.8,499.6 215.5,499.5 216.1,499.4 216.7,499.3 217.3,499.1 217.9,498.9 218.5,498.8 219.1,498.6 219.7,498.3 220.3,498.1 220.9,497.8 221.5,497.5 222.1,497.2 222.8,496.9 223.4,496.5 224.0,496.1 224.6,495.7 225.2,495.2 225.8,494.8 226.4,494.3 227.0,493.7 227.6,493.1 228.2,492.6 228.8,491.9 229.4,491.3 230.1,490.6 230.7,489.9 231.3,489.2 231.9,488.5 232.5,487.8 233.1,487.1 233.7,486.3 234.3,485.6 234.9,484.9 235.5,484.2 236.1,483.5 236.7,482.8 237.4,482.1 238.0,481.5 238.6,480.9 239.2,480.3 239.8,479.8 240.4,479.3 241.0,478.9 241.6,478.5 242.2,478.2 242.8,477.9 243.4,477.8 244.0,477.6 244.7,477.5 245.3,477.5 245.9,477.6 246.5,477.7 247.1,477.9 247.7,478.2 248.3,478.5 248.9,478.9 249.5,479.4 250.1,479.9 250.7,480.4 251.3,481.0 252.0,481.6 252.6,482.3 253.2,482.9 253.8,483.6 254.4,484.3 255.0,485.0 255.6,485.7 256.2,486.4 256.8,487.1 257.4,487.7 258.0,488.4 258.6,489.0 259.3,489.5 259.9,490.1 260.5,490.6 261.1,491.0 261.7,491.4 262.3,491.8 262.9,492.1 263.5,492.4 264.1,492.6 264.7,492.8 265.3,492.9 265.9,493.0 266.6,493.0 267.2,493.1 267.8,493.0 268.4,493.0 269.0,492.9 269.6,492.7 270.2,492.6 270.8,492.4 271.4,492.2 272.0,492.0 272.6,491.8 273.2,491.6 273.9,491.4 274.5,491.2 275.1,491.0 275.7,490.8 276.3,490.6 276.9,490.4 277.5,490.3 278.1,490.2 278.7,490.1 279.3,490.0 279.9,489.9 280.5,489.9 281.2,489.9 281.8,490.0 282.4,490.0 283.0,490.1 283.6,490.3 284.2,490.4 284.8,490.6 285.4,490.8 286.0,491.1 286.6,491.3 287.2,491.6 287.8,491.9 288.5,492.2 289.1,492.5 289.7,492.9 290.3,493.2 290.9,493.6 291.5,493.9 292.1,494.3 292.7,494.6 293.3,495.0 293.9,495.3 294.5,495.6 295.1,496.0 295.8,496.3 296.4,496.6 297.0,496.9 297.6,497.2 298.2,497.4 298.8,497.7 299.4,497.9 300.0,498.1 300.6,498.3 301.2,498.5 301.8,498.7 302.4,498.9 303.1,499.0 303.7,499.2 304.3,499.3 304.9,499.4 305.5,499.5 306.1,499.6 306.7,499.7 307.3,499.8 307.9,499.8 308.5,499.9 309.1,500.0 309.7,500.0 310.4,500.0 311.0,500.1 311.6,500.1 312.2,500.1 312.8,500.2 313.4,500.2 314.0,500.2 314.6,500.2 315.2,500.2 315.8,500.2 316.4,500.3 317.0,500.3 317.7,500.3 318.3,500.3 318.9,500.3 319.5,500.3 320.1,500.3 320.7,500.3 321.3,500.3 321.9,500.3 322.5,500.3 323.1,500.3 323.7,500.3 324.3,500.3 325.0,500.3 325.6,500.3 326.2,500.3 326.8,500.3 327.4,500.3 328.0,500.3 328.6,500.3 329.2,500.3 329.8,500.3 330.4,500.3 331.0,500.3 331.6,500.3 332.3,500.3 332.9,500.3 333.5,500.3 334.1,500.3 334.7,500.3 335.3,500.3 335.9,500.3 336.5,500.3 337.1,500.3 337.7,500.3 338.3,500.3 338.9,500.3 339.6,500.3 340.2,500.3 340.8,500.3 341.4,500.3 342.0,500.3 342.6,500.3 343.2,500.3 343.8,500.3" fill="none" stroke="#ff00ff" stroke-width="1.3" stroke-linejoin="round" stroke-dasharray="6 3.5 1.2 3.5 1.2 3.5" stroke-dashoffset="-1.5"/>
<path d="M210.6,500.0 211.2,500.0 211.8,499.9 212.4,499.8 213.0,499.8 213.6,499.7 214.2,499.6 214.8,499.5 215.5,499.4 216.1,499.2 216.7,499.1 217.3,498.9 217.9,498.7 218.5,498.5 219.1,498.2 219.7,498.0 220.3,497.7 220.9,497.4 221.5,497.0 222.1,496.7 222.8,496.3 223.4,495.8 224.0,495.4 224.6,494.9 225.2,494.3 225.8,493.8 226.4,493.2 227.0,492.5 227.6,491.9 228.2,491.2 228.8,490.4 229.4,489.7 230.1,488.9 230.7,488.1 231.3,487.3 231.9,486.4 232.5,485.6 233.1,484.7 233.7,483.8 234.3,483.0 234.9,482.1 235.5,481.3 236.1,480.4 236.7,479.6 237.4,478.8 238.0,478.1 238.6,477.4 239.2,476.7 239.8,476.1 240.4,475.6 241.0,475.1 241.6,474.6 242.2,474.2 242.8,473.9 243.4,473.7 244.0,473.5 244.7,473.5 245.3,473.5 245.9,473.5 246.5,473.7 247.1,473.9 247.7,474.3 248.3,474.7 248.9,475.1 249.5,475.7 250.1,476.3 250.7,476.9 251.3,477.6 252.0,478.3 252.6,479.1 253.2,479.9 253.8,480.7 254.4,481.5 255.0,482.3 255.6,483.1 256.2,483.9 256.8,484.7 257.4,485.5 258.0,486.2 258.6,486.8 259.3,487.5 259.9,488.0 260.5,488.6 261.1,489.0 261.7,489.4 262.3,489.8 262.9,490.0 263.5,490.3 264.1,490.4 264.7,490.5 265.3,490.5 265.9,490.5 266.6,490.4 267.2,490.3 267.8,490.1 268.4,489.9 269.0,489.6 269.6,489.3 270.2,489.0 270.8,488.6 271.4,488.2 272.0,487.8 272.6,487.4 273.2,487.0 273.9,486.6 274.5,486.2 275.1,485.8 275.7,485.5 276.3,485.2 276.9,484.9 277.5,484.6 278.1,484.4 278.7,484.2 279.3,484.1 279.9,484.0 280.5,483.9 281.2,483.9 281.8,484.0 282.4,484.1 283.0,484.2 283.6,484.4 284.2,484.7 284.8,485.0 285.4,485.3 286.0,485.7 286.6,486.1 287.2,486.5 287.8,487.0 288.5,487.5 289.1,488.0 289.7,488.5 290.3,489.1 290.9,489.6 291.5,490.2 292.1,490.7 292.7,491.3 293.3,491.8 293.9,492.4 294.5,492.9 295.1,493.4 295.8,493.9 296.4,494.4 297.0,494.9 297.6,495.3 298.2,495.7 298.8,496.1 299.4,496.5 300.0,496.9 300.6,497.2 301.2,497.5 301.8,497.8 302.4,498.1 303.1,498.3 303.7,498.5 304.3,498.7 304.9,498.9 305.5,499.1 306.1,499.2 306.7,499.4 307.3,499.5 307.9,499.6 308.5,499.7 309.1,499.8 309.7,499.8 310.4,499.9 311.0,500.0 311.6,500.0 312.2,500.1 312.8,500.1 313.4,500.1 314.0,500.1 314.6,500.2 315.2,500.2 315.8,500.2 316.4,500.2 317.0,500.2 317.7,500.2 318.3,500.3 318.9,500.3 319.5,500.3 320.1,500.3 320.7,500.3 321.3,500.3 321.9,500.3 322.5,500.3 323.1,500.3 323.7,500.3 324.3,500.3 325.0,500.3 325.6,500.3 326.2,500.3 326.8,500.3 327.4,500.3 328.0,500.3 328.6,500.3 329.2,500.3 329.8,500.3 330.4,500.3 331.0,500.3 331.6,500.3 332.3,500.3 332.9,500.3 333.5,500.3 334.1,500.3 334.7,500.3 335.3,500.3 335.9,500.3 336.5,500.3 337.1,500.3 337.7,500.3 338.3,500.3 338.9,500.3 339.6,500.3 340.2,500.3 340.8,500.3 341.4,500.3 342.0,500.3 342.6,500.3 343.2,500.3 343.8,500.3" fill="none" stroke="#00ffff" stroke-width="1.3" stroke-linejoin="round"/>
<path d="M210.6,499.9 211.2,499.8 211.8,499.8 212.4,499.7 213.0,499.6 213.6,499.5 214.2,499.3 214.8,499.2 215.5,499.0 216.1,498.8 216.7,498.6 217.3,498.4 217.9,498.1 218.5,497.8 219.1,497.5 219.7,497.2 220.3,496.8 220.9,496.3 221.5,495.9 222.1,495.4 222.8,494.8 223.4,494.2 224.0,493.6 224.6,492.9 225.2,492.2 225.8,491.4 226.4,490.6 227.0,489.7 227.6,488.8 228.2,487.9 228.8,486.9 229.4,485.9 230.1,484.8 230.7,483.7 231.3,482.6 231.9,481.4 232.5,480.3 233.1,479.1 233.7,477.9 234.3,476.7 234.9,475.6 235.5,474.4 236.1,473.3 236.7,472.2 237.4,471.1 238.0,470.1 238.6,469.1 239.2,468.2 239.8,467.4 240.4,466.7 241.0,466.0 241.6,465.4 242.2,464.9 242.8,464.5 243.4,464.1 244.0,463.9 244.7,463.8 245.3,463.8 245.9,463.9 246.5,464.2 247.1,464.5 247.7,465.0 248.3,465.6 248.9,466.3 249.5,467.1 250.1,468.0 250.7,468.9 251.3,469.9 252.0,471.0 252.6,472.1 253.2,473.3 253.8,474.5 254.4,475.6 255.0,476.8 255.6,478.0 256.2,479.1 256.8,480.2 257.4,481.3 258.0,482.3 258.6,483.2 259.3,484.1 259.9,484.9 260.5,485.6 261.1,486.2 261.7,486.8 262.3,487.2 262.9,487.5 263.5,487.8 264.1,488.0 264.7,488.0 265.3,488.0 265.9,487.9 266.6,487.7 267.2,487.4 267.8,487.1 268.4,486.7 269.0,486.2 269.6,485.7 270.2,485.1 270.8,484.5 271.4,483.9 272.0,483.2 272.6,482.6 273.2,481.9 273.9,481.3 274.5,480.6 275.1,480.0 275.7,479.4 276.3,478.9 276.9,478.4 277.5,478.0 278.1,477.6 278.7,477.3 279.3,477.1 279.9,476.9 280.5,476.9 281.2,476.9 281.8,476.9 282.4,477.1 283.0,477.3 283.6,477.6 284.2,477.9 284.8,478.4 285.4,478.8 286.0,479.4 286.6,479.9 287.2,480.6 287.8,481.2 288.5,481.9 289.1,482.7 289.7,483.4 290.3,484.2 290.9,485.0 291.5,485.8 292.1,486.6 292.7,487.4 293.3,488.2 293.9,489.0 294.5,489.7 295.1,490.5 295.8,491.2 296.4,491.9 297.0,492.5 297.6,493.2 298.2,493.8 298.8,494.3 299.4,494.9 300.0,495.4 300.6,495.9 301.2,496.3 301.8,496.7 302.4,497.1 303.1,497.4 303.7,497.7 304.3,498.0 304.9,498.3 305.5,498.5 306.1,498.7 306.7,498.9 307.3,499.1 307.9,499.3 308.5,499.4 309.1,499.5 309.7,499.6 310.4,499.7 311.0,499.8 311.6,499.9 312.2,499.9 312.8,500.0 313.4,500.0 314.0,500.1 314.6,500.1 315.2,500.1 315.8,500.2 316.4,500.2 317.0,500.2 317.7,500.2 318.3,500.2 318.9,500.3 319.5,500.3 320.1,500.3 320.7,500.3 321.3,500.3 321.9,500.3 322.5,500.3 323.1,500.3 323.7,500.3 324.3,500.3 325.0,500.3 325.6,500.3 326.2,500.3 326.8,500.3 327.4,500.3 328.0,500.3 328.6,500.3 329.2,500.3 329.8,500.3 330.4,500.3 331.0,500.3 331.6,500.3 332.3,500.3 332.9,500.3 333.5,500.3 334.1,500.3 334.7,500.3 335.3,500.3 335.9,500.3 336.5,500.3 337.1,500.3 337.7,500.3 338.3,500.3 338.9,500.3 339.6,500.3 340.2,500.3 340.8,500.3 341.4,500.3 342.0,500.3 342.6,500.3 343.2,500.3 343.8,500.3" fill="none" stroke="#9400d3" stroke-width="1.3" stroke-linejoin="round"/>
<path d="M210.6,499.9 211.2,499.9 211.8,499.8 212.4,499.7 213.0,499.6 213.6,499.5 214.2,499.4 214.8,499.3 215.5,499.1 216.1,498.9 216.7,498.7 217.3,498.5 217.9,498.3 218.5,498.0 219.1,497.7 219.7,497.4 220.3,497.0 220.9,496.6 221.5,496.2 222.1,495.7 222.8,495.2 223.4,494.7 224.0,494.1 224.6,493.4 225.2,492.8 225.8,492.0 226.4,491.3 227.0,490.5 227.6,489.6 228.2,488.8 228.8,487.8 229.4,486.9 230.1,485.9 230.7,484.9 231.3,483.8 231.9,482.8 232.5,481.7 233.1,480.6 233.7,479.5 234.3,478.4 234.9,477.3 235.5,476.2 236.1,475.2 236.7,474.2 237.4,473.2 238.0,472.2 238.6,471.3 239.2,470.5 239.8,469.7 240.4,469.0 241.0,468.4 241.6,467.8 242.2,467.4 242.8,467.0 243.4,466.7 244.0,466.5 244.7,466.4 245.3,466.3 245.9,466.4 246.5,466.6 247.1,466.9 247.7,467.3 248.3,467.8 248.9,468.4 249.5,469.1 250.1,469.8 250.7,470.6 251.3,471.5 252.0,472.4 252.6,473.4 253.2,474.3 253.8,475.3 254.4,476.3 255.0,477.3 255.6,478.3 256.2,479.2 256.8,480.1 257.4,481.0 258.0,481.8 258.6,482.6 259.3,483.2 259.9,483.8 260.5,484.4 261.1,484.8 261.7,485.2 262.3,485.4 262.9,485.6 263.5,485.7 264.1,485.7 264.7,485.6 265.3,485.4 265.9,485.1 266.6,484.7 267.2,484.3 267.8,483.8 268.4,483.2 269.0,482.6 269.6,481.9 270.2,481.2 270.8,480.5 271.4,479.7 272.0,478.9 272.6,478.1 273.2,477.3 273.9,476.6 274.5,475.8 275.1,475.1 275.7,474.4 276.3,473.8 276.9,473.3 277.5,472.8 278.1,472.3 278.7,472.0 279.3,471.7 279.9,471.6 280.5,471.5 281.2,471.5 281.8,471.6 282.4,471.8 283.0,472.0 283.6,472.4 284.2,472.8 284.8,473.3 285.4,473.9 286.0,474.6 286.6,475.3 287.2,476.0 287.8,476.9 288.5,477.7 289.1,478.6 289.7,479.6 290.3,480.5 290.9,481.5 291.5,482.5 292.1,483.4 292.7,484.4 293.3,485.4 293.9,486.3 294.5,487.3 295.1,488.2 295.8,489.1 296.4,489.9 297.0,490.7 297.6,491.5 298.2,492.3 298.8,493.0 299.4,493.6 300.0,494.3 300.6,494.8 301.2,495.4 301.8,495.9 302.4,496.3 303.1,496.8 303.7,497.2 304.3,497.5 304.9,497.8 305.5,498.1 306.1,498.4 306.7,498.6 307.3,498.8 307.9,499.0 308.5,499.2 309.1,499.3 309.7,499.5 310.4,499.6 311.0,499.7 311.6,499.8 312.2,499.9 312.8,499.9 313.4,500.0 314.0,500.0 314.6,500.1 315.2,500.1 315.8,500.1 316.4,500.2 317.0,500.2 317.7,500.2 318.3,500.2 318.9,500.2 319.5,500.3 320.1,500.3 320.7,500.3 321.3,500.3 321.9,500.3 322.5,500.3 323.1,500.3 323.7,500.3 324.3,500.3 325.0,500.3 325.6,500.3 326.2,500.3 326.8,500.3 327.4,500.3 328.0,500.3 328.6,500.3 329.2,500.3 329.8,500.3 330.4,500.3 331.0,500.3 331.6,500.3 332.3,500.3 332.9,500.3 333.5,500.3 334.1,500.3 334.7,500.3 335.3,500.3 335.9,500.3 336.5,500.3 337.1,500.3 337.7,500.3 338.3,500.3 338.9,500.3 339.6,500.3 340.2,500.3 340.8,500.3 341.4,500.3 342.0,500.3 342.6,500.3 343.2,500.3 343.8,500.3" fill="none" stroke="#dcdcdc" stroke-width="0.8" stroke-linejoin="round"/>
<path d="M210.6,499.9 211.2,499.9 211.8,499.8 212.4,499.7 213.0,499.6 213.6,499.5 214.2,499.4 214.8,499.2 215.5,499.1 216.1,498.9 216.7,498.7 217.3,498.5 217.9,498.2 218.5,498.0 219.1,497.7 219.7,497.3 220.3,497.0 220.9,496.6 221.5,496.1 222.1,495.7 222.8,495.1 223.4,494.6 224.0,494.0 224.6,493.4 225.2,492.7 225.8,491.9 226.4,491.2 227.0,490.4 227.6,489.5 228.2,488.6 228.8,487.7 229.4,486.7 230.1,485.7 230.7,484.7 231.3,483.6 231.9,482.5 232.5,481.4 233.1,480.3 233.7,479.2 234.3,478.1 234.9,477.0 235.5,475.9 236.1,474.9 236.7,473.8 237.4,472.8 238.0,471.9 238.6,471.0 239.2,470.1 239.8,469.3 240.4,468.6 241.0,468.0 241.6,467.4 242.2,466.9 242.8,466.5 243.4,466.2 244.0,466.0 244.7,465.9 245.3,465.9 245.9,466.0 246.5,466.2 247.1,466.4 247.7,466.8 248.3,467.3 248.9,467.9 249.5,468.5 250.1,469.2 250.7,470.0 251.3,470.9 252.0,471.7 252.6,472.6 253.2,473.6 253.8,474.5 254.4,475.5 255.0,476.4 255.6,477.4 256.2,478.3 256.8,479.1 257.4,479.9 258.0,480.7 258.6,481.4 259.3,482.0 259.9,482.6 260.5,483.0 261.1,483.4 261.7,483.7 262.3,483.9 262.9,484.0 263.5,484.0 264.1,483.9 264.7,483.7 265.3,483.5 265.9,483.1 266.6,482.7 267.2,482.1 267.8,481.5 268.4,480.9 269.0,480.1 269.6,479.4 270.2,478.6 270.8,477.7 271.4,476.9 272.0,476.0 272.6,475.1 273.2,474.2 273.9,473.4 274.5,472.6 275.1,471.8 275.7,471.0 276.3,470.4 276.9,469.8 277.5,469.2 278.1,468.8 278.7,468.4 279.3,468.1 279.9,467.9 280.5,467.8 281.2,467.8 281.8,467.9 282.4,468.1 283.0,468.4 283.6,468.8 284.2,469.3 284.8,469.9 285.4,470.5 286.0,471.3 286.6,472.1 287.2,473.0 287.8,473.9 288.5,474.9 289.1,475.9 289.7,476.9 290.3,478.0 290.9,479.1 291.5,480.2 292.1,481.3 292.7,482.4 293.3,483.5 293.9,484.6 294.5,485.6 295.1,486.7 295.8,487.7 296.4,488.6 297.0,489.5 297.6,490.4 298.2,491.2 298.8,492.0 299.4,492.8 300.0,493.5 300.6,494.1 301.2,494.8 301.8,495.3 302.4,495.8 303.1,496.3 303.7,496.8 304.3,497.2 304.9,497.5 305.5,497.9 306.1,498.2 306.7,498.4 307.3,498.7 307.9,498.9 308.5,499.1 309.1,499.2 309.7,499.4 310.4,499.5 311.0,499.6 311.6,499.7 312.2,499.8 312.8,499.9 313.4,499.9 314.0,500.0 314.6,500.0 315.2,500.1 315.8,500.1 316.4,500.2 317.0,500.2 317.7,500.2 318.3,500.2 318.9,500.2 319.5,500.2 320.1,500.3 320.7,500.3 321.3,500.3 321.9,500.3 322.5,500.3 323.1,500.3 323.7,500.3 324.3,500.3 325.0,500.3 325.6,500.3 326.2,500.3 326.8,500.3 327.4,500.3 328.0,500.3 328.6,500.3 329.2,500.3 329.8,500.3 330.4,500.3 331.0,500.3 331.6,500.3 332.3,500.3 332.9,500.3 333.5,500.3 334.1,500.3 334.7,500.3 335.3,500.3 335.9,500.3 336.5,500.3 337.1,500.3 337.7,500.3 338.3,500.3 338.9,500.3 339.6,500.3 340.2,500.3 340.8,500.3 341.4,500.3 342.0,500.3 342.6,500.3 343.2,500.3 343.8,500.3" fill="none" stroke="#bc8f8f" stroke-width="0.8" stroke-linejoin="round"/>
<path d="M210.6,500.0 211.2,499.9 211.8,499.8 212.4,499.8 213.0,499.7 213.6,499.6 214.2,499.5 214.8,499.3 215.5,499.2 216.1,499.0 216.7,498.8 217.3,498.6 217.9,498.4 218.5,498.2 219.1,497.9 219.7,497.6 220.3,497.2 220.9,496.9 221.5,496.5 222.1,496.0 222.8,495.6 223.4,495.1 224.0,494.5 224.6,493.9 225.2,493.3 225.8,492.6 226.4,491.9 227.0,491.2 227.6,490.4 228.2,489.6 228.8,488.7 229.4,487.8 230.1,486.9 230.7,485.9 231.3,485.0 231.9,484.0 232.5,483.0 233.1,482.0 233.7,480.9 234.3,479.9 234.9,478.9 235.5,477.9 236.1,476.9 236.7,476.0 237.4,475.1 238.0,474.2 238.6,473.3 239.2,472.6 239.8,471.8 240.4,471.2 241.0,470.6 241.6,470.1 242.2,469.6 242.8,469.3 243.4,469.0 244.0,468.8 244.7,468.7 245.3,468.6 245.9,468.7 246.5,468.9 247.1,469.1 247.7,469.4 248.3,469.8 248.9,470.3 249.5,470.9 250.1,471.5 250.7,472.2 251.3,472.9 252.0,473.6 252.6,474.4 253.2,475.2 253.8,476.0 254.4,476.9 255.0,477.6 255.6,478.4 256.2,479.2 256.8,479.9 257.4,480.5 258.0,481.1 258.6,481.7 259.3,482.2 259.9,482.5 260.5,482.9 261.1,483.1 261.7,483.2 262.3,483.3 262.9,483.2 263.5,483.1 264.1,482.9 264.7,482.6 265.3,482.2 265.9,481.7 266.6,481.1 267.2,480.5 267.8,479.7 268.4,479.0 269.0,478.1 269.6,477.3 270.2,476.3 270.8,475.4 271.4,474.4 272.0,473.5 272.6,472.5 273.2,471.5 273.9,470.6 274.5,469.7 275.1,468.9 275.7,468.1 276.3,467.3 276.9,466.7 277.5,466.1 278.1,465.6 278.7,465.2 279.3,464.9 279.9,464.7 280.5,464.6 281.2,464.6 281.8,464.7 282.4,464.9 283.0,465.3 283.6,465.7 284.2,466.2 284.8,466.9 285.4,467.6 286.0,468.4 286.6,469.3 287.2,470.2 287.8,471.3 288.5,472.3 289.1,473.5 289.7,474.6 290.3,475.8 290.9,477.0 291.5,478.2 292.1,479.4 292.7,480.6 293.3,481.8 293.9,483.0 294.5,484.2 295.1,485.3 295.8,486.4 296.4,487.5 297.0,488.5 297.6,489.4 298.2,490.3 298.8,491.2 299.4,492.0 300.0,492.8 300.6,493.5 301.2,494.2 301.8,494.8 302.4,495.4 303.1,495.9 303.7,496.4 304.3,496.8 304.9,497.2 305.5,497.6 306.1,497.9 306.7,498.2 307.3,498.5 307.9,498.7 308.5,498.9 309.1,499.1 309.7,499.3 310.4,499.4 311.0,499.6 311.6,499.7 312.2,499.8 312.8,499.8 313.4,499.9 314.0,500.0 314.6,500.0 315.2,500.1 315.8,500.1 316.4,500.1 317.0,500.2 317.7,500.2 318.3,500.2 318.9,500.2 319.5,500.2 320.1,500.3 320.7,500.3 321.3,500.3 321.9,500.3 322.5,500.3 323.1,500.3 323.7,500.3 324.3,500.3 325.0,500.3 325.6,500.3 326.2,500.3 326.8,500.3 327.4,500.3 328.0,500.3 328.6,500.3 329.2,500.3 329.8,500.3 330.4,500.3 331.0,500.3 331.6,500.3 332.3,500.3 332.9,500.3 333.5,500.3 334.1,500.3 334.7,500.3 335.3,500.3 335.9,500.3 336.5,500.3 337.1,500.3 337.7,500.3 338.3,500.3 338.9,500.3 339.6,500.3 340.2,500.3 340.8,500.3 341.4,500.3 342.0,500.3 342.6,500.3 343.2,500.3 343.8,500.3" fill="none" stroke="#00ff00" stroke-width="0.8" stroke-linejoin="round"/>
<path d="M210.6,499.9 211.2,499.9 211.8,499.8 212.4,499.7 213.0,499.6 213.6,499.5 214.2,499.3 214.8,499.2 215.5,499.0 216.1,498.9 216.7,498.6 217.3,498.4 217.9,498.2 218.5,497.9 219.1,497.6 219.7,497.2 220.3,496.8 220.9,496.4 221.5,496.0 222.1,495.5 222.8,494.9 223.4,494.3 224.0,493.7 224.6,493.0 225.2,492.3 225.8,491.6 226.4,490.8 227.0,489.9 227.6,489.0 228.2,488.1 228.8,487.1 229.4,486.1 230.1,485.1 230.7,484.0 231.3,482.9 231.9,481.8 232.5,480.6 233.1,479.5 233.7,478.3 234.3,477.1 234.9,476.0 235.5,474.9 236.1,473.8 236.7,472.7 237.4,471.6 238.0,470.6 238.6,469.7 239.2,468.8 239.8,468.0 240.4,467.2 241.0,466.5 241.6,466.0 242.2,465.5 242.8,465.0 243.4,464.7 244.0,464.5 244.7,464.4 245.3,464.3 245.9,464.4 246.5,464.6 247.1,464.9 247.7,465.3 248.3,465.7 248.9,466.3 249.5,466.9 250.1,467.7 250.7,468.4 251.3,469.3 252.0,470.1 252.6,471.0 253.2,472.0 253.8,472.9 254.4,473.8 255.0,474.8 255.6,475.7 256.2,476.6 256.8,477.4 257.4,478.2 258.0,478.9 258.6,479.5 259.3,480.1 259.9,480.6 260.5,481.0 261.1,481.3 261.7,481.5 262.3,481.6 262.9,481.6 263.5,481.5 264.1,481.3 264.7,481.0 265.3,480.6 265.9,480.1 266.6,479.5 267.2,478.8 267.8,478.1 268.4,477.2 269.0,476.3 269.6,475.4 270.2,474.4 270.8,473.4 271.4,472.4 272.0,471.4 272.6,470.3 273.2,469.3 273.9,468.3 274.5,467.3 275.1,466.4 275.7,465.6 276.3,464.8 276.9,464.0 277.5,463.4 278.1,462.9 278.7,462.4 279.3,462.1 279.9,461.9 280.5,461.8 281.2,461.8 281.8,461.9 282.4,462.2 283.0,462.5 283.6,463.0 284.2,463.6 284.8,464.2 285.4,465.0 286.0,465.9 286.6,466.9 287.2,467.9 287.8,469.0 288.5,470.1 289.1,471.3 289.7,472.6 290.3,473.9 290.9,475.2 291.5,476.5 292.1,477.8 292.7,479.1 293.3,480.4 293.9,481.7 294.5,482.9 295.1,484.1 295.8,485.3 296.4,486.4 297.0,487.5 297.6,488.6 298.2,489.6 298.8,490.5 299.4,491.4 300.0,492.2 300.6,493.0 301.2,493.7 301.8,494.4 302.4,495.0 303.1,495.6 303.7,496.1 304.3,496.6 304.9,497.0 305.5,497.4 306.1,497.8 306.7,498.1 307.3,498.4 307.9,498.6 308.5,498.8 309.1,499.0 309.7,499.2 310.4,499.4 311.0,499.5 311.6,499.6 312.2,499.7 312.8,499.8 313.4,499.9 314.0,499.9 314.6,500.0 315.2,500.1 315.8,500.1 316.4,500.1 317.0,500.2 317.7,500.2 318.3,500.2 318.9,500.2 319.5,500.2 320.1,500.2 320.7,500.3 321.3,500.3 321.9,500.3 322.5,500.3 323.1,500.3 323.7,500.3 324.3,500.3 325.0,500.3 325.6,500.3 326.2,500.3 326.8,500.3 327.4,500.3 328.0,500.3 328.6,500.3 329.2,500.3 329.8,500.3 330.4,500.3 331.0,500.3 331.6,500.3 332.3,500.3 332.9,500.3 333.5,500.3 334.1,500.3 334.7,500.3 335.3,500.3 335.9,500.3 336.5,500.3 337.1,500.3 337.7,500.3 338.3,500.3 338.9,500.3 339.6,500.3 340.2,500.3 340.8,500.3 341.4,500.3 342.0,500.3 342.6,500.3 343.2,500.3 343.8,500.3" fill="none" stroke="#ff0000" stroke-width="0.8" stroke-linejoin="round"/>
<path d="M210.6,499.8 211.2,499.7 211.8,499.6 212.4,499.5 213.0,499.4 213.6,499.3 214.2,499.1 214.8,498.9 215.5,498.7 216.1,498.5 216.7,498.2 217.3,497.9 217.9,497.6 218.5,497.2 219.1,496.8 219.7,496.4 220.3,495.9 220.9,495.4 221.5,494.8 222.1,494.2 222.8,493.5 223.4,492.8 224.0,492.0 224.6,491.1 225.2,490.2 225.8,489.3 226.4,488.3 227.0,487.2 227.6,486.1 228.2,484.9 228.8,483.6 229.4,482.4 230.1,481.0 230.7,479.7 231.3,478.3 231.9,476.9 232.5,475.4 233.1,474.0 233.7,472.5 234.3,471.0 234.9,469.6 235.5,468.2 236.1,466.8 236.7,465.4 237.4,464.1 238.0,462.8 238.6,461.6 239.2,460.5 239.8,459.5 240.4,458.5 241.0,457.7 241.6,456.9 242.2,456.3 242.8,455.8 243.4,455.4 244.0,455.1 244.7,455.0 245.3,454.9 245.9,455.0 246.5,455.3 247.1,455.7 247.7,456.2 248.3,456.8 248.9,457.6 249.5,458.5 250.1,459.4 250.7,460.5 251.3,461.6 252.0,462.8 252.6,464.0 253.2,465.2 253.8,466.5 254.4,467.8 255.0,469.1 255.6,470.4 256.2,471.6 256.8,472.8 257.4,473.9 258.0,475.0 258.6,476.0 259.3,476.9 259.9,477.7 260.5,478.4 261.1,479.0 261.7,479.4 262.3,479.8 262.9,480.1 263.5,480.2 264.1,480.2 264.7,480.1 265.3,479.9 265.9,479.6 266.6,479.1 267.2,478.6 267.8,478.0 268.4,477.3 269.0,476.5 269.6,475.7 270.2,474.8 270.8,473.8 271.4,472.9 272.0,471.9 272.6,470.9 273.2,469.9 273.9,469.0 274.5,468.0 275.1,467.1 275.7,466.3 276.3,465.5 276.9,464.8 277.5,464.2 278.1,463.7 278.7,463.3 279.3,462.9 279.9,462.7 280.5,462.6 281.2,462.6 281.8,462.8 282.4,463.0 283.0,463.4 283.6,463.8 284.2,464.4 284.8,465.0 285.4,465.8 286.0,466.7 286.6,467.6 287.2,468.6 287.8,469.7 288.5,470.8 289.1,472.0 289.7,473.2 290.3,474.5 290.9,475.7 291.5,477.0 292.1,478.3 292.7,479.6 293.3,480.8 293.9,482.1 294.5,483.3 295.1,484.5 295.8,485.6 296.4,486.8 297.0,487.8 297.6,488.8 298.2,489.8 298.8,490.7 299.4,491.6 300.0,492.4 300.6,493.2 301.2,493.9 301.8,494.5 302.4,495.1 303.1,495.7 303.7,496.2 304.3,496.7 304.9,497.1 305.5,497.5 306.1,497.8 306.7,498.1 307.3,498.4 307.9,498.6 308.5,498.9 309.1,499.1 309.7,499.2 310.4,499.4 311.0,499.5 311.6,499.6 312.2,499.7 312.8,499.8 313.4,499.9 314.0,500.0 314.6,500.0 315.2,500.1 315.8,500.1 316.4,500.1 317.0,500.2 317.7,500.2 318.3,500.2 318.9,500.2 319.5,500.2 320.1,500.2 320.7,500.3 321.3,500.3 321.9,500.3 322.5,500.3 323.1,500.3 323.7,500.3 324.3,500.3 325.0,500.3 325.6,500.3 326.2,500.3 326.8,500.3 327.4,500.3 328.0,500.3 328.6,500.3 329.2,500.3 329.8,500.3 330.4,500.3 331.0,500.3 331.6,500.3 332.3,500.3 332.9,500.3 333.5,500.3 334.1,500.3 334.7,500.3 335.3,500.3 335.9,500.3 336.5,500.3 337.1,500.3 337.7,500.3 338.3,500.3 338.9,500.3 339.6,500.3 340.2,500.3 340.8,500.3 341.4,500.3 342.0,500.3 342.6,500.3 343.2,500.3 343.8,500.3" fill="none" stroke="#ffa500" stroke-width="1.3" stroke-linejoin="round" stroke-dasharray="6 3.1"/>
<path d="M210.6,499.9 211.2,499.8 211.8,499.8 212.4,499.7 213.0,499.6 213.6,499.5 214.2,499.3 214.8,499.2 215.5,499.0 216.1,498.8 216.7,498.6 217.3,498.4 217.9,498.1 218.5,497.8 219.1,497.5 219.7,497.1 220.3,496.7 220.9,496.3 221.5,495.8 222.1,495.3 222.8,494.7 223.4,494.2 224.0,493.5 224.6,492.8 225.2,492.1 225.8,491.3 226.4,490.5 227.0,489.6 227.6,488.7 228.2,487.7 228.8,486.7 229.4,485.7 230.1,484.6 230.7,483.5 231.3,482.3 231.9,481.2 232.5,480.0 233.1,478.8 233.7,477.6 234.3,476.4 234.9,475.2 235.5,474.1 236.1,472.9 236.7,471.8 237.4,470.7 238.0,469.7 238.6,468.7 239.2,467.8 239.8,466.9 240.4,466.2 241.0,465.5 241.6,464.9 242.2,464.4 242.8,463.9 243.4,463.6 244.0,463.4 244.7,463.2 245.3,463.2 245.9,463.3 246.5,463.5 247.1,463.8 247.7,464.2 248.3,464.7 248.9,465.3 249.5,465.9 250.1,466.7 250.7,467.5 251.3,468.4 252.0,469.3 252.6,470.2 253.2,471.2 253.8,472.2 254.4,473.2 255.0,474.2 255.6,475.1 256.2,476.1 256.8,477.0 257.4,477.8 258.0,478.6 258.6,479.3 259.3,479.9 259.9,480.5 260.5,480.9 261.1,481.3 261.7,481.6 262.3,481.8 262.9,481.8 263.5,481.8 264.1,481.7 264.7,481.4 265.3,481.1 265.9,480.7 266.6,480.1 267.2,479.5 267.8,478.9 268.4,478.1 269.0,477.3 269.6,476.4 270.2,475.5 270.8,474.6 271.4,473.6 272.0,472.6 272.6,471.7 273.2,470.7 273.9,469.8 274.5,468.9 275.1,468.0 275.7,467.2 276.3,466.4 276.9,465.7 277.5,465.1 278.1,464.6 278.7,464.2 279.3,463.9 279.9,463.7 280.5,463.6 281.2,463.6 281.8,463.7 282.4,464.0 283.0,464.3 283.6,464.8 284.2,465.3 284.8,466.0 285.4,466.7 286.0,467.5 286.6,468.4 287.2,469.4 287.8,470.5 288.5,471.6 289.1,472.7 289.7,473.9 290.3,475.1 290.9,476.4 291.5,477.6 292.1,478.9 292.7,480.1 293.3,481.3 293.9,482.5 294.5,483.7 295.1,484.9 295.8,486.0 296.4,487.1 297.0,488.1 297.6,489.1 298.2,490.1 298.8,491.0 299.4,491.8 300.0,492.6 300.6,493.3 301.2,494.0 301.8,494.7 302.4,495.3 303.1,495.8 303.7,496.3 304.3,496.8 304.9,497.2 305.5,497.5 306.1,497.9 306.7,498.2 307.3,498.4 307.9,498.7 308.5,498.9 309.1,499.1 309.7,499.3 310.4,499.4 311.0,499.5 311.6,499.6 312.2,499.7 312.8,499.8 313.4,499.9 314.0,500.0 314.6,500.0 315.2,500.1 315.8,500.1 316.4,500.1 317.0,500.2 317.7,500.2 318.3,500.2 318.9,500.2 319.5,500.2 320.1,500.2 320.7,500.3 321.3,500.3 321.9,500.3 322.5,500.3 323.1,500.3 323.7,500.3 324.3,500.3 325.0,500.3 325.6,500.3 326.2,500.3 326.8,500.3 327.4,500.3 328.0,500.3 328.6,500.3 329.2,500.3 329.8,500.3 330.4,500.3 331.0,500.3 331.6,500.3 332.3,500.3 332.9,500.3 333.5,500.3 334.1,500.3 334.7,500.3 335.3,500.3 335.9,500.3 336.5,500.3 337.1,500.3 337.7,500.3 338.3,500.3 338.9,500.3 339.6,500.3 340.2,500.3 340.8,500.3 341.4,500.3 342.0,500.3 342.6,500.3 343.2,500.3 343.8,500.3" fill="none" stroke="#0000ff" stroke-width="1.25" stroke-linejoin="round"/>
<path d="M37.5,500.3 38.3,500.3 39.0,500.3 39.7,500.3 40.5,500.3 41.2,500.3 41.9,500.3 42.7,500.3 43.4,500.3 44.1,500.3 44.9,500.3 45.6,500.3 46.3,500.3 47.1,500.3 47.8,500.3 48.5,500.3 49.2,500.3 50.0,500.3 50.7,500.3 51.4,500.3 52.2,500.3 52.9,500.3 53.6,500.3 54.4,500.3 55.1,500.3 55.8,500.3 56.6,500.3 57.3,500.3 58.0,500.3 58.7,500.3 59.5,500.3 60.2,500.3 60.9,500.3 61.7,500.3 62.4,500.3 63.1,500.3 63.9,500.3 64.6,500.3 65.3,500.3 66.1,500.3 66.8,500.3 67.5,500.3 68.2,500.3 69.0,500.3 69.7,500.3 70.4,500.3 71.2,500.3 71.9,500.3 72.6,500.3 73.4,500.3 74.1,500.3 74.8,500.3 75.6,500.3 76.3,500.3 77.0,500.3 77.8,500.3 78.5,500.3 79.2,500.3 79.9,500.3 80.7,500.3 81.4,500.3 82.1,500.3 82.9,500.3 83.6,500.3 84.3,500.3 85.1,500.3 85.8,500.3 86.5,500.3 87.3,500.3 88.0,500.3 88.7,500.3 89.4,500.3 90.2,500.3 90.9,500.3 91.6,500.3 92.4,500.3 93.1,500.3 93.8,500.3 94.6,500.3 95.3,500.3 96.0,500.3 96.8,500.2 97.5,500.2 98.2,500.2 98.9,500.2 99.7,500.1 100.4,500.1 101.1,500.0 101.9,500.0 102.6,499.9 103.3,499.8 104.1,499.6 104.8,499.4 105.5,499.2 106.3,499.0 107.0,498.7 107.7,498.3 108.5,497.8 109.2,497.3 109.9,496.6 110.6,495.9 111.4,494.9 112.1,493.9 112.8,492.6 113.6,491.2 114.3,489.5 115.0,487.6 115.8,485.4 116.5,482.9 117.2,480.1 118.0,477.0 118.7,473.5 119.4,469.6 120.1,465.3 120.9,460.6 121.6,455.4 122.3,449.8 123.1,443.8 123.8,437.3 124.5,430.4 125.3,423.2 126.0,415.5 126.7,407.5 127.5,399.3 128.2,390.8 128.9,382.1 129.6,373.3 130.4,364.5 131.1,355.8 131.8,347.2 132.6,338.8 133.3,330.8 134.0,323.1 134.8,316.0 135.5,309.4 136.2,303.5 137.0,298.4 137.7,294.1 138.4,290.6 139.1,288.1 139.9,286.5 140.6,285.9 141.3,286.3 142.1,287.6 142.8,289.9 143.5,293.2 144.3,297.3 145.0,302.2 145.7,307.9 146.5,314.3 147.2,321.4 147.9,328.9 148.7,336.9 149.4,345.2 150.1,353.7 150.8,362.4 151.6,371.2 152.3,380.0 153.0,388.7 153.8,397.3 154.5,405.6 155.2,413.6 156.0,421.4 156.7,428.7 157.4,435.7 158.2,442.3 158.9,448.4 159.6,454.1 160.3,459.4 161.1,464.2 161.8,468.6 162.5,472.6 163.3,476.2 164.0,479.4 164.7,482.3 165.5,484.9 166.2,487.1 166.9,489.1 167.7,490.8 168.4,492.3 169.1,493.6 169.8,494.7 170.6,495.6 171.3,496.5 172.0,497.1 172.8,497.7 173.5,498.2 174.2,498.6 175.0,498.9 175.7,499.2 176.4,499.4 177.2,499.6 177.9,499.7 178.6,499.9 179.4,499.9 180.1,500.0 180.8,500.1 181.5,500.1 182.3,500.2 183.0,500.2 183.7,500.2 184.5,500.2 185.2,500.3 185.9,500.3 186.7,500.3 187.4,500.3 188.1,500.3 188.9,500.3 189.6,500.3 190.3,500.3 191.0,500.3 191.8,500.3 192.5,500.3 193.2,500.3 194.0,500.3 194.7,500.3 195.4,500.3 196.2,500.3 196.9,500.3 197.6,500.3 198.4,500.3 199.1,500.3 199.8,500.3 200.5,500.3 201.3,500.3 202.0,500.3 202.7,500.3 203.5,500.3 204.2,500.2 204.9,500.2 205.7,500.2 206.4,500.2 207.1,500.2 207.9,500.1 208.6,500.1 209.3,500.1 210.0,500.0 210.8,500.0 211.5,499.9 212.2,499.8 213.0,499.7 213.7,499.6 214.4,499.5 215.2,499.3 215.9,499.1 216.6,498.9 217.4,498.7 218.1,498.4 218.8,498.1 219.6,497.8 220.3,497.4 221.0,497.0 221.7,496.5 222.5,496.0 223.2,495.4 223.9,494.8 224.7,494.1 225.4,493.4 226.1,492.6 226.9,491.8 227.6,490.9 228.3,489.9 229.1,489.0 229.8,487.9 230.5,486.8 231.2,485.7 232.0,484.6 232.7,483.4 233.4,482.3 234.2,481.1 234.9,480.0 235.6,478.8 236.4,477.7 237.1,476.6 237.8,475.6 238.6,474.6 239.3,473.8 240.0,472.9 240.7,472.2 241.5,471.6 242.2,471.1 242.9,470.7 243.7,470.4 244.4,470.2 245.1,470.1 245.9,470.2 246.6,470.3 247.3,470.6 248.1,471.1 248.8,471.6 249.5,472.2 250.3,472.9 251.0,473.6 251.7,474.4 252.4,475.3 253.2,476.2 253.9,477.1 254.6,477.9 255.4,478.8 256.1,479.6 256.8,480.4 257.6,481.1 258.3,481.7 259.0,482.2 259.8,482.6 260.5,482.9 261.2,483.1 261.9,483.2 262.7,483.1 263.4,482.9 264.1,482.5 264.9,482.1 265.6,481.5 266.3,480.8 267.1,480.0 267.8,479.1 268.5,478.1 269.3,477.0 270.0,475.9 270.7,474.7 271.4,473.5 272.2,472.3 272.9,471.1 273.6,470.0 274.4,468.9 275.1,467.8 275.8,466.9 276.6,466.0 277.3,465.2 278.0,464.6 278.8,464.1 279.5,463.8 280.2,463.6 280.9,463.5 281.7,463.6 282.4,463.9 283.1,464.3 283.9,464.9 284.6,465.6 285.3,466.5 286.1,467.5 286.8,468.6 287.5,469.8 288.3,471.1 289.0,472.5 289.7,473.9 290.5,475.4 291.2,476.9 291.9,478.4 292.6,479.9 293.4,481.4 294.1,482.9 294.8,484.3 295.6,485.6 296.3,487.0 297.0,488.2 297.8,489.4 298.5,490.5 299.2,491.5 300.0,492.5 300.7,493.4 301.4,494.2 302.1,495.0 302.9,495.6 303.6,496.2 304.3,496.8 305.1,497.3 305.8,497.7 306.5,498.1 307.3,498.4 308.0,498.7 308.7,499.0 309.5,499.2 310.2,499.4 310.9,499.5 311.6,499.7 312.4,499.8 313.1,499.9 313.8,499.9 314.6,500.0 315.3,500.1 316.0,500.1 316.8,500.2 317.5,500.2 318.2,500.2 319.0,500.2 319.7,500.2 320.4,500.3 321.2,500.3 321.9,500.3 322.6,500.3 323.3,500.3 324.1,500.3 324.8,500.3 325.5,500.3 326.3,500.3 327.0,500.3 327.7,500.3 328.5,500.3 329.2,500.3 329.9,500.3 330.7,500.3 331.4,500.3 332.1,500.3 332.8,500.3 333.6,500.3 334.3,500.3 335.0,500.3 335.8,500.3 336.5,500.3 337.2,500.3 338.0,500.3 338.7,500.3 339.4,500.3 340.2,500.3 340.9,500.3 341.6,500.3 342.3,500.3 343.1,500.3 343.8,500.3" fill="none" stroke="#000" stroke-width="1.4" stroke-linejoin="round"/>
</g>
<rect x="37.55" y="285.9" width="306.25" height="214.40" fill="none" stroke="#4a4a4a" stroke-width="0.7"/>
<path d="M114.12,500.3v-6M114.12,285.9v6M190.68,500.3v-6M190.68,285.9v6M267.25,500.3v-6M267.25,285.9v6M75.83,500.3v-3M75.83,285.9v3M152.40,500.3v-3M152.40,285.9v3M228.96,500.3v-3M228.96,285.9v3M305.53,500.3v-3M305.53,285.9v3M37.55,457.42h6M343.8,457.42h-6M37.55,414.54h6M343.8,414.54h-6M37.55,371.66h6M343.8,371.66h-6M37.55,328.78h6M343.8,328.78h-6M37.55,478.86h3M343.8,478.86h-3M37.55,435.98h3M343.8,435.98h-3M37.55,393.10h3M343.8,393.10h-3M37.55,350.22h3M343.8,350.22h-3M37.55,307.34h3M343.8,307.34h-3" fill="none" stroke="#4a4a4a" stroke-width="0.7"/>
<text transform="translate(37.85,509.80) scale(0.93,1)"  font-size="9.2" text-anchor="middle">300</text>
<text transform="translate(114.42,509.80) scale(0.93,1)"  font-size="9.2" text-anchor="middle">350</text>
<text transform="translate(190.98,509.80) scale(0.93,1)"  font-size="9.2" text-anchor="middle">400</text>
<text transform="translate(267.55,509.80) scale(0.93,1)"  font-size="9.2" text-anchor="middle">450</text>
<text transform="translate(344.11,509.80) scale(0.93,1)"  font-size="9.2" text-anchor="middle">500</text>
<text transform="translate(35.20,503.60) scale(0.93,1)"  font-size="9.2" text-anchor="end">0</text>
<text transform="translate(35.20,460.72) scale(0.93,1)"  font-size="9.2" text-anchor="end">0.2</text>
<text transform="translate(35.20,417.84) scale(0.93,1)"  font-size="9.2" text-anchor="end">0.4</text>
<text transform="translate(35.20,374.96) scale(0.93,1)"  font-size="9.2" text-anchor="end">0.6</text>
<text transform="translate(35.20,332.08) scale(0.93,1)"  font-size="9.2" text-anchor="end">0.8</text>
<text transform="translate(35.20,289.20) scale(0.93,1)"  font-size="9.2" text-anchor="end">1</text>
<text transform="translate(191.30,520.50) scale(0.981,1)"  font-size="11.8" text-anchor="middle">Photon Energy (eV)</text>
<text transform="translate(18.50,393.60) rotate(-90) scale(0.981,1)"  font-size="11.8" text-anchor="middle">Relative Intensity (arb. units)</text>
<text x="0.2" y="283.1"  font-size="17.5" textLength="20.2" lengthAdjust="spacingAndGlyphs">(b)</text>
<rect x="251.8" y="301.0" width="65.6" height="93.4" fill="#fff" stroke="#4a4a4a" stroke-width="0.7"/>
<path d="M255.1,307.70H267.7" stroke="#000" stroke-width="1.4"/>
<text transform="translate(274.30,310.80) scale(0.93,1)"  font-size="9.2" text-anchor="start">910 eV/u</text>
<path d="M255.1,316.74H267.7" stroke="#ff0000" stroke-width="0.9"/>
<text transform="translate(274.30,319.84) scale(0.93,1)"  font-size="9.2" text-anchor="start">1363 eV/u</text>
<path d="M255.1,325.78H267.7" stroke="#00ff00" stroke-width="0.9"/>
<text transform="translate(274.30,328.88) scale(0.93,1)"  font-size="9.2" text-anchor="start">2166 eV/u</text>
<path d="M255.1,334.82H267.7" stroke="#0000ff" stroke-width="0.9"/>
<text transform="translate(274.30,337.92) scale(0.93,1)"  font-size="9.2" text-anchor="start">2878 eV/u</text>
<path d="M255.1,343.86H267.7" stroke="#ffa500" stroke-width="1.5" stroke-dasharray="6 3.1"/>
<text transform="translate(274.30,346.96) scale(0.93,1)"  font-size="9.2" text-anchor="start">3351 eV/u</text>
<path d="M255.1,352.90H267.7" stroke="#bc8f8f" stroke-width="0.8"/>
<text transform="translate(274.30,356.00) scale(0.93,1)"  font-size="9.2" text-anchor="start">5179 eV/u</text>
<path d="M255.1,361.94H267.7" stroke="#dcdcdc" stroke-width="0.8"/>
<text transform="translate(274.30,365.04) scale(0.93,1)"  font-size="9.2" text-anchor="start">6241 eV/u</text>
<path d="M255.1,370.98H267.7" stroke="#9400d3" stroke-width="1.5"/>
<text transform="translate(274.30,374.08) scale(0.93,1)"  font-size="9.2" text-anchor="start">8137 eV/u</text>
<path d="M255.1,380.02H267.7" stroke="#00ffff" stroke-width="1.5"/>
<text transform="translate(274.30,383.12) scale(0.93,1)"  font-size="9.2" text-anchor="start">11933 eV/u</text>
<path d="M255.1,389.06H267.7" stroke="#ff00ff" stroke-width="1.5" stroke-dasharray="1.4 3.2 6 3.2"/>
<text transform="translate(274.30,392.16) scale(0.93,1)"  font-size="9.2" text-anchor="start">27500 eV/u</text>
</svg>
</body></html>
